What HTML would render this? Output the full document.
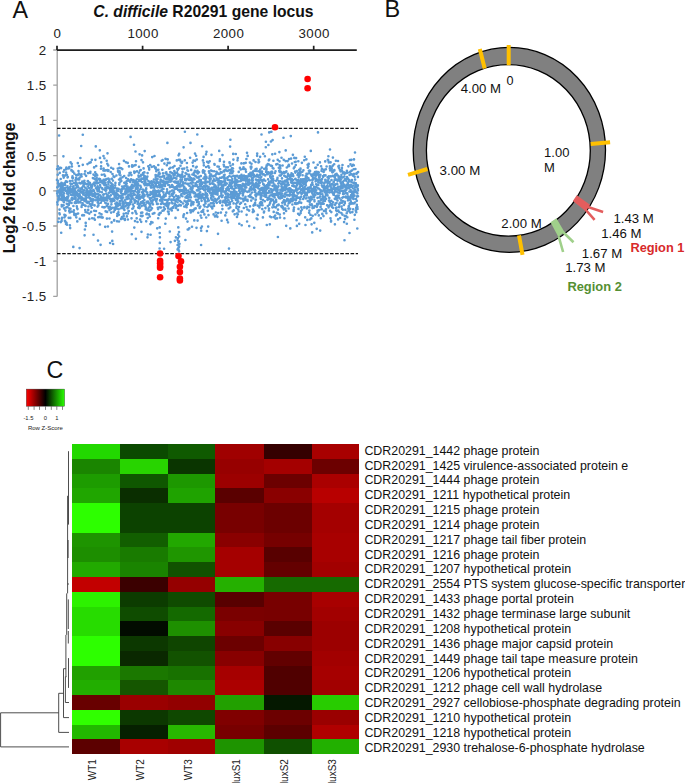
<!DOCTYPE html><html><head><meta charset="utf-8"><style>html,body{margin:0;padding:0;background:#fff;width:685px;height:783px;overflow:hidden}svg{display:block}text{font-family:"Liberation Sans", sans-serif}</style></head><body><svg width="685" height="783" viewBox="0 0 685 783"><rect width="685" height="783" fill="#fff"/><text x="12.4" y="18.3" font-size="23.3" fill="#111">A</text><text x="93.3" y="16.8" font-size="15.7" font-weight="bold" fill="#111"><tspan font-style="italic">C. difficile</tspan> R20291 gene locus</text><text x="57.5" y="38" font-size="13.3" letter-spacing="0.45" fill="#222" text-anchor="middle">0</text><text x="143.1" y="38" font-size="13.3" letter-spacing="0.45" fill="#222" text-anchor="middle">1000</text><text x="228.6" y="38" font-size="13.3" letter-spacing="0.45" fill="#222" text-anchor="middle">2000</text><text x="314.2" y="38" font-size="13.3" letter-spacing="0.45" fill="#222" text-anchor="middle">3000</text><text x="46.7" y="54.9" font-size="13.3" letter-spacing="0.45" fill="#222" text-anchor="end">2</text><text x="46.7" y="90.1" font-size="13.3" letter-spacing="0.45" fill="#222" text-anchor="end">1.5</text><text x="46.7" y="125.3" font-size="13.3" letter-spacing="0.45" fill="#222" text-anchor="end">1</text><text x="46.7" y="160.5" font-size="13.3" letter-spacing="0.45" fill="#222" text-anchor="end">0.5</text><text x="46.7" y="195.7" font-size="13.3" letter-spacing="0.45" fill="#222" text-anchor="end">0</text><text x="46.7" y="230.9" font-size="13.3" letter-spacing="0.45" fill="#222" text-anchor="end">-0.5</text><text x="46.7" y="266.1" font-size="13.3" letter-spacing="0.45" fill="#222" text-anchor="end">-1</text><text x="46.7" y="301.3" font-size="13.3" letter-spacing="0.45" fill="#222" text-anchor="end">-1.5</text><text transform="translate(15.4,187.9) rotate(-90)" font-size="15.8" font-weight="bold" fill="#111" text-anchor="middle">Log2 fold change</text><path d="M57.2 50V296.4M53.2 50.0H57.2M53.2 85.2H57.2M53.2 120.4H57.2M53.2 155.6H57.2M53.2 190.8H57.2M53.2 226.0H57.2M53.2 261.2H57.2M53.2 296.4H57.2" stroke="#a0a0a0" stroke-width="1.3" fill="none"/><path d="M57.0 179.9h0M57.1 169.1h0M57.2 193.5h0M57.3 187.3h0M57.3 202.3h0M57.4 191.4h0M57.5 187.4h0M57.6 204.6h0M57.7 174.7h0M57.8 195.8h0M57.9 166.4h0M57.9 183.2h0M58.0 180.8h0M58.1 183.1h0M58.2 221.8h0M58.3 199.3h0M58.4 186.3h0M58.5 191.7h0M58.5 200.3h0M58.6 185.6h0M58.7 197.4h0M58.8 169.1h0M58.9 218.5h0M59.0 197.5h0M59.1 199.0h0M59.1 135.5h0M59.2 190.4h0M59.3 198.0h0M59.4 213.2h0M59.5 209.6h0M59.6 198.5h0M59.7 172.9h0M59.7 214.3h0M59.8 184.4h0M59.9 193.4h0M60.0 195.0h0M60.1 167.7h0M60.2 192.3h0M60.3 192.6h0M60.3 193.7h0M60.4 190.0h0M60.5 188.5h0M60.6 195.4h0M60.7 179.0h0M60.8 222.1h0M60.9 186.7h0M60.9 185.1h0M61.0 199.6h0M61.1 168.1h0M61.2 232.7h0M61.3 194.5h0M61.4 182.9h0M61.4 192.2h0M61.5 191.1h0M61.6 220.9h0M61.7 205.0h0M61.8 206.4h0M61.9 218.7h0M62.0 187.6h0M62.0 217.9h0M62.1 197.3h0M62.2 189.1h0M62.3 183.2h0M62.4 190.8h0M62.5 192.5h0M62.6 196.8h0M62.6 200.3h0M62.7 190.6h0M62.8 187.1h0M62.9 185.1h0M63.0 175.2h0M63.1 175.7h0M63.2 198.3h0M63.2 196.2h0M63.3 195.1h0M63.4 156.3h0M63.5 171.7h0M63.6 205.3h0M63.7 177.6h0M63.8 190.3h0M63.8 196.2h0M63.9 202.2h0M64.0 193.4h0M64.1 208.4h0M64.2 189.0h0M64.3 170.0h0M64.4 184.7h0M64.4 214.8h0M64.5 217.3h0M64.6 199.2h0M64.7 200.0h0M64.8 183.0h0M64.9 220.8h0M65.0 182.9h0M65.0 198.4h0M65.1 185.1h0M65.2 188.0h0M65.3 175.4h0M65.4 210.6h0M65.5 189.9h0M65.6 221.9h0M65.6 215.6h0M65.7 199.9h0M65.8 190.9h0M65.9 181.3h0M66.0 224.0h0M66.1 172.6h0M66.2 207.5h0M66.2 168.3h0M66.3 169.2h0M66.4 167.5h0M66.5 222.9h0M66.6 197.8h0M66.7 199.0h0M66.8 200.4h0M66.8 203.7h0M66.9 174.7h0M67.0 224.7h0M67.1 193.4h0M67.2 181.8h0M67.3 196.7h0M67.4 187.5h0M67.4 206.9h0M67.5 186.2h0M67.6 177.5h0M67.7 197.9h0M67.8 176.9h0M67.9 191.8h0M68.0 190.4h0M68.0 197.7h0M68.1 200.7h0M68.2 194.0h0M68.3 188.8h0M68.4 195.9h0M68.5 200.5h0M68.6 168.5h0M68.6 188.2h0M68.7 217.8h0M68.8 205.0h0M68.9 190.4h0M69.0 203.9h0M69.1 192.8h0M69.2 168.2h0M69.2 210.9h0M69.3 167.0h0M69.4 208.5h0M69.5 201.9h0M69.6 190.9h0M69.7 212.4h0M69.7 209.1h0M69.8 200.7h0M69.9 225.3h0M70.0 181.0h0M70.1 191.6h0M70.2 228.1h0M70.3 186.7h0M70.3 217.9h0M70.4 183.5h0M70.5 208.7h0M70.6 162.4h0M70.7 192.2h0M70.8 189.1h0M70.9 194.7h0M70.9 190.5h0M71.0 184.3h0M71.1 191.3h0M71.2 191.4h0M71.3 211.6h0M71.4 170.5h0M71.5 202.9h0M71.5 170.0h0M71.6 198.7h0M71.7 163.8h0M71.8 184.0h0M71.9 166.4h0M72.0 197.7h0M72.1 190.2h0M72.1 194.8h0M72.2 199.8h0M72.3 177.7h0M72.4 180.7h0M72.5 176.3h0M72.6 192.1h0M72.7 189.9h0M72.7 199.0h0M72.8 171.7h0M72.9 186.8h0M73.0 178.1h0M73.1 171.6h0M73.2 190.2h0M73.3 246.9h0M73.3 188.6h0M73.4 206.0h0M73.5 186.4h0M73.6 212.0h0M73.7 193.6h0M73.8 183.0h0M73.9 210.2h0M73.9 195.4h0M74.0 191.3h0M74.1 198.3h0M74.2 214.2h0M74.3 173.6h0M74.4 214.9h0M74.5 193.0h0M74.5 183.0h0M74.6 213.9h0M74.7 190.4h0M74.8 202.8h0M74.9 196.6h0M75.0 194.2h0M75.1 193.5h0M75.1 202.4h0M75.2 194.2h0M75.3 199.1h0M75.4 188.6h0M75.5 180.0h0M75.6 195.8h0M75.7 215.0h0M75.7 198.1h0M75.8 185.1h0M75.9 203.0h0M76.0 182.3h0M76.1 177.9h0M76.2 175.1h0M76.3 217.3h0M76.3 191.7h0M76.4 200.8h0M76.5 182.7h0M76.6 214.1h0M76.7 179.3h0M76.8 206.3h0M76.9 187.1h0M76.9 193.0h0M77.0 184.2h0M77.1 208.2h0M77.2 200.4h0M77.3 221.4h0M77.4 194.3h0M77.5 209.1h0M77.5 175.1h0M77.6 185.7h0M77.7 201.7h0M77.8 163.1h0M77.9 179.3h0M78.0 196.1h0M78.1 202.6h0M78.1 213.5h0M78.2 187.4h0M78.3 190.3h0M78.4 199.1h0M78.5 171.1h0M78.6 201.5h0M78.6 174.6h0M78.7 197.2h0M78.8 178.5h0M78.9 173.5h0M79.0 166.0h0M79.1 190.9h0M79.2 193.9h0M79.2 179.4h0M79.3 195.6h0M79.4 182.9h0M79.5 195.6h0M79.6 248.1h0M79.7 197.3h0M79.8 177.5h0M79.8 218.9h0M79.9 195.2h0M80.0 196.1h0M80.1 202.5h0M80.2 190.8h0M80.3 201.9h0M80.4 158.0h0M80.4 188.6h0M80.5 197.4h0M80.6 183.4h0M80.7 197.9h0M80.8 174.9h0M80.9 191.9h0M81.0 192.3h0M81.0 189.1h0M81.1 198.2h0M81.2 146.0h0M81.3 199.8h0M81.4 192.1h0M81.5 174.2h0M81.6 206.9h0M81.6 176.5h0M81.7 197.2h0M81.8 198.3h0M81.9 205.2h0M82.0 192.3h0M82.1 187.5h0M82.2 215.3h0M82.2 189.3h0M82.3 181.6h0M82.4 192.8h0M82.5 203.2h0M82.6 203.3h0M82.7 183.2h0M82.8 164.8h0M82.8 134.7h0M82.9 215.1h0M83.0 192.3h0M83.1 186.3h0M83.2 194.6h0M83.3 181.8h0M83.4 191.6h0M83.4 204.7h0M83.5 199.9h0M83.6 182.1h0M83.7 185.3h0M83.8 193.1h0M83.9 186.1h0M84.0 198.6h0M84.0 215.3h0M84.1 183.9h0M84.2 190.2h0M84.3 199.6h0M84.4 180.8h0M84.5 201.0h0M84.6 235.3h0M84.6 174.1h0M84.7 183.0h0M84.8 199.6h0M84.9 229.5h0M85.0 195.3h0M85.1 205.6h0M85.2 210.0h0M85.2 171.4h0M85.3 187.7h0M85.4 199.5h0M85.5 211.9h0M85.6 205.9h0M85.7 222.9h0M85.8 225.9h0M85.8 195.8h0M85.9 200.1h0M86.0 194.5h0M86.1 175.8h0M86.2 198.1h0M86.3 192.6h0M86.4 184.1h0M86.4 194.6h0M86.5 191.2h0M86.6 202.3h0M86.7 189.1h0M86.8 193.4h0M86.9 190.6h0M86.9 197.4h0M87.0 201.6h0M87.1 202.6h0M87.2 194.3h0M87.3 190.2h0M87.4 212.6h0M87.5 202.8h0M87.5 164.1h0M87.6 194.6h0M87.7 181.2h0M87.8 186.5h0M87.9 181.0h0M88.0 191.6h0M88.1 192.9h0M88.1 173.1h0M88.2 209.9h0M88.3 183.9h0M88.4 206.5h0M88.5 194.2h0M88.6 197.3h0M88.7 202.1h0M88.7 184.3h0M88.8 202.0h0M88.9 182.4h0M89.0 183.7h0M89.1 195.8h0M89.2 188.0h0M89.3 218.9h0M89.3 213.6h0M89.4 162.8h0M89.5 191.2h0M89.6 195.5h0M89.7 193.2h0M89.8 204.0h0M89.9 182.9h0M89.9 198.0h0M90.0 198.6h0M90.1 184.6h0M90.2 194.6h0M90.3 173.0h0M90.4 171.7h0M90.5 192.4h0M90.5 190.1h0M90.6 198.6h0M90.7 162.3h0M90.8 200.9h0M90.9 205.8h0M91.0 186.0h0M91.1 184.9h0M91.1 211.8h0M91.2 200.9h0M91.3 199.0h0M91.4 190.8h0M91.5 204.6h0M91.6 191.6h0M91.7 187.8h0M91.7 207.7h0M91.8 159.8h0M91.9 191.7h0M92.0 186.3h0M92.1 194.5h0M92.2 218.2h0M92.3 204.7h0M92.3 203.8h0M92.4 194.0h0M92.5 196.1h0M92.6 201.7h0M92.7 195.4h0M92.8 194.3h0M92.9 178.1h0M92.9 200.1h0M93.0 195.4h0M93.1 199.2h0M93.2 190.4h0M93.3 184.0h0M93.4 190.1h0M93.5 174.6h0M93.5 234.7h0M93.6 183.6h0M93.7 184.0h0M93.8 178.4h0M93.9 194.6h0M94.0 190.8h0M94.1 167.4h0M94.1 218.5h0M94.2 210.7h0M94.3 183.8h0M94.4 182.6h0M94.5 194.1h0M94.6 205.4h0M94.7 192.7h0M94.7 196.4h0M94.8 185.6h0M94.9 219.7h0M95.0 215.1h0M95.1 179.3h0M95.2 175.9h0M95.2 172.3h0M95.3 200.2h0M95.4 159.8h0M95.5 197.3h0M95.6 178.8h0M95.7 194.6h0M95.8 182.8h0M95.8 146.4h0M95.9 188.2h0M96.0 211.0h0M96.1 174.7h0M96.2 166.0h0M96.3 187.8h0M96.4 174.4h0M96.4 180.0h0M96.5 183.2h0M96.6 181.3h0M96.7 178.1h0M96.8 180.3h0M96.9 187.5h0M97.0 183.5h0M97.0 193.9h0M97.1 189.4h0M97.2 175.3h0M97.3 199.9h0M97.4 190.8h0M97.5 198.8h0M97.6 186.3h0M97.6 206.6h0M97.7 202.6h0M97.8 196.9h0M97.9 201.9h0M98.0 240.6h0M98.1 190.3h0M98.2 194.1h0M98.2 217.2h0M98.3 200.0h0M98.4 205.4h0M98.5 182.7h0M98.6 203.7h0M98.7 187.4h0M98.8 200.2h0M98.8 190.4h0M98.9 198.7h0M99.0 189.0h0M99.1 179.3h0M99.2 178.7h0M99.3 194.9h0M99.4 191.5h0M99.4 199.4h0M99.5 213.2h0M99.6 216.9h0M99.7 191.7h0M99.8 150.3h0M99.9 224.5h0M100.0 179.1h0M100.0 157.9h0M100.1 185.0h0M100.2 195.4h0M100.3 180.8h0M100.4 186.9h0M100.5 181.9h0M100.6 197.7h0M100.6 244.8h0M100.7 196.5h0M100.8 202.7h0M100.9 196.5h0M101.0 168.7h0M101.1 166.3h0M101.2 180.7h0M101.2 162.3h0M101.3 199.3h0M101.4 200.5h0M101.5 214.4h0M101.6 217.4h0M101.7 200.1h0M101.8 200.6h0M101.8 174.7h0M101.9 192.2h0M102.0 198.6h0M102.1 188.3h0M102.2 188.2h0M102.3 199.8h0M102.4 207.0h0M102.4 200.5h0M102.5 183.0h0M102.6 189.3h0M102.7 217.6h0M102.8 198.6h0M102.9 197.5h0M103.0 198.6h0M103.0 181.1h0M103.1 181.9h0M103.2 197.6h0M103.3 194.8h0M103.4 170.5h0M103.5 156.0h0M103.6 168.6h0M103.6 179.7h0M103.7 198.0h0M103.8 184.2h0M103.9 200.6h0M104.0 194.2h0M104.1 170.6h0M104.1 207.4h0M104.2 174.5h0M104.3 185.1h0M104.4 158.2h0M104.5 179.9h0M104.6 182.6h0M104.7 197.7h0M104.7 207.2h0M104.8 189.8h0M104.9 199.9h0M105.0 175.9h0M105.1 184.7h0M105.2 226.8h0M105.3 189.1h0M105.3 202.8h0M105.4 187.7h0M105.5 182.6h0M105.6 211.3h0M105.7 170.4h0M105.8 190.8h0M105.9 198.1h0M105.9 184.7h0M106.0 203.3h0M106.1 179.7h0M106.2 190.2h0M106.3 193.6h0M106.4 179.0h0M106.5 188.5h0M106.5 199.5h0M106.6 186.4h0M106.7 160.7h0M106.8 206.1h0M106.9 218.6h0M107.0 196.3h0M107.1 211.9h0M107.1 198.1h0M107.2 200.5h0M107.3 163.7h0M107.4 170.1h0M107.5 153.3h0M107.6 170.3h0M107.7 186.4h0M107.7 187.8h0M107.8 195.3h0M107.9 226.5h0M108.0 203.9h0M108.1 171.0h0M108.2 165.4h0M108.3 178.5h0M108.3 182.1h0M108.4 183.9h0M108.5 170.2h0M108.6 208.0h0M108.7 196.2h0M108.8 206.7h0M108.9 192.8h0M108.9 197.9h0M109.0 179.8h0M109.1 188.3h0M109.2 197.1h0M109.3 181.5h0M109.4 179.3h0M109.5 218.5h0M109.5 210.1h0M109.6 181.6h0M109.7 198.8h0M109.8 192.3h0M109.9 188.9h0M110.0 206.7h0M110.1 190.1h0M110.1 243.0h0M110.2 188.4h0M110.3 198.6h0M110.4 186.1h0M110.5 199.6h0M110.6 186.8h0M110.7 172.0h0M110.7 201.4h0M110.8 195.3h0M110.9 187.3h0M111.0 208.9h0M111.1 212.6h0M111.2 167.7h0M111.3 183.3h0M111.3 190.5h0M111.4 204.3h0M111.5 192.1h0M111.6 222.4h0M111.7 188.4h0M111.8 199.3h0M111.9 201.6h0M111.9 178.8h0M112.0 208.0h0M112.1 231.6h0M112.2 184.3h0M112.3 240.9h0M112.4 186.1h0M112.4 207.7h0M112.5 174.0h0M112.6 187.8h0M112.7 184.9h0M112.8 186.8h0M112.9 180.6h0M113.0 193.7h0M113.0 198.7h0M113.1 244.0h0M113.2 168.8h0M113.3 200.7h0M113.4 189.7h0M113.5 191.4h0M113.6 176.4h0M113.6 188.0h0M113.7 211.8h0M113.8 199.8h0M113.9 191.4h0M114.0 194.5h0M114.1 220.6h0M114.2 193.0h0M114.2 220.0h0M114.3 177.0h0M114.4 207.8h0M114.5 200.6h0M114.6 209.2h0M114.7 196.7h0M114.8 196.9h0M114.8 196.8h0M114.9 210.0h0M115.0 209.6h0M115.1 187.6h0M115.2 185.2h0M115.3 195.9h0M115.4 203.6h0M115.4 182.9h0M115.5 209.0h0M115.6 194.2h0M115.7 198.0h0M115.8 192.8h0M115.9 195.1h0M116.0 206.9h0M116.0 204.8h0M116.1 193.6h0M116.2 204.8h0M116.3 203.3h0M116.4 175.5h0M116.5 197.8h0M116.6 193.2h0M116.6 190.3h0M116.7 195.2h0M116.8 202.5h0M116.9 198.3h0M117.0 221.2h0M117.1 188.5h0M117.2 216.0h0M117.2 188.7h0M117.3 213.8h0M117.4 199.3h0M117.5 194.3h0M117.6 205.9h0M117.7 208.7h0M117.8 195.1h0M117.8 168.5h0M117.9 205.8h0M118.0 171.1h0M118.1 190.9h0M118.2 171.8h0M118.3 197.9h0M118.4 212.2h0M118.4 203.8h0M118.5 188.7h0M118.6 209.3h0M118.7 168.2h0M118.8 172.3h0M118.9 214.7h0M119.0 179.5h0M119.0 221.5h0M119.1 164.1h0M119.2 195.9h0M119.3 184.6h0M119.4 183.1h0M119.5 174.6h0M119.6 167.9h0M119.6 171.4h0M119.7 201.4h0M119.8 172.9h0M119.9 204.2h0M120.0 204.1h0M120.1 205.1h0M120.2 178.6h0M120.2 201.4h0M120.3 178.5h0M120.4 175.3h0M120.5 181.6h0M120.6 179.1h0M120.7 189.8h0M120.7 191.9h0M120.8 208.2h0M120.9 198.1h0M121.0 219.1h0M121.1 168.2h0M121.2 193.1h0M121.3 193.5h0M121.3 180.9h0M121.4 196.0h0M121.5 218.3h0M121.6 191.2h0M121.7 199.6h0M121.8 199.7h0M121.9 206.9h0M121.9 189.2h0M122.0 217.0h0M122.1 186.6h0M122.2 198.2h0M122.3 169.1h0M122.4 194.1h0M122.5 177.2h0M122.5 189.2h0M122.6 203.2h0M122.7 207.7h0M122.8 201.7h0M122.9 204.5h0M123.0 218.5h0M123.1 197.6h0M123.1 194.6h0M123.2 207.1h0M123.3 204.5h0M123.4 206.3h0M123.5 204.3h0M123.6 208.7h0M123.7 216.0h0M123.7 213.8h0M123.8 187.7h0M123.9 160.8h0M124.0 188.2h0M124.1 209.3h0M124.2 176.0h0M124.3 193.9h0M124.3 182.7h0M124.4 209.9h0M124.5 185.8h0M124.6 203.3h0M124.7 200.3h0M124.8 218.8h0M124.9 206.5h0M124.9 220.0h0M125.0 182.5h0M125.1 206.5h0M125.2 194.3h0M125.3 191.9h0M125.4 185.6h0M125.5 202.3h0M125.5 199.5h0M125.6 189.9h0M125.7 206.1h0M125.8 192.5h0M125.9 162.2h0M126.0 192.5h0M126.1 213.2h0M126.1 178.0h0M126.2 184.3h0M126.3 184.4h0M126.4 197.2h0M126.5 191.0h0M126.6 193.0h0M126.7 183.5h0M126.7 187.8h0M126.8 181.0h0M126.9 216.4h0M127.0 205.0h0M127.1 198.9h0M127.2 190.8h0M127.3 204.1h0M127.3 203.4h0M127.4 186.3h0M127.5 188.8h0M127.6 208.3h0M127.7 162.9h0M127.8 195.3h0M127.9 219.5h0M127.9 213.5h0M128.0 196.7h0M128.1 179.3h0M128.2 198.5h0M128.3 207.4h0M128.4 191.6h0M128.5 190.7h0M128.5 211.2h0M128.6 203.3h0M128.7 175.4h0M128.8 211.1h0M128.9 194.6h0M129.0 166.4h0M129.0 180.7h0M129.1 205.2h0M129.2 188.0h0M129.3 198.5h0M129.4 188.6h0M129.5 173.0h0M129.6 187.5h0M129.6 180.7h0M129.7 195.2h0M129.8 188.5h0M129.9 188.0h0M130.0 173.2h0M130.1 203.9h0M130.2 191.6h0M130.2 188.9h0M130.3 182.0h0M130.4 201.2h0M130.5 194.4h0M130.6 136.9h0M130.7 172.7h0M130.8 187.4h0M130.8 196.2h0M130.9 191.6h0M131.0 193.7h0M131.1 179.2h0M131.2 199.8h0M131.3 186.4h0M131.4 201.9h0M131.4 175.1h0M131.5 218.3h0M131.6 188.8h0M131.7 179.8h0M131.8 234.2h0M131.9 197.7h0M132.0 184.7h0M132.0 191.1h0M132.1 165.2h0M132.2 166.7h0M132.3 208.7h0M132.4 213.1h0M132.5 195.7h0M132.6 186.2h0M132.6 188.0h0M132.7 185.2h0M132.8 166.2h0M132.9 204.5h0M133.0 185.2h0M133.1 208.2h0M133.2 182.1h0M133.2 186.4h0M133.3 193.6h0M133.4 198.5h0M133.5 180.1h0M133.6 182.1h0M133.7 206.4h0M133.8 191.7h0M133.8 194.9h0M133.9 191.0h0M134.0 144.7h0M134.1 182.3h0M134.2 171.5h0M134.3 227.6h0M134.4 165.5h0M134.4 172.8h0M134.5 200.6h0M134.6 186.2h0M134.7 194.5h0M134.8 202.7h0M134.9 200.3h0M135.0 221.1h0M135.0 191.2h0M135.1 171.8h0M135.2 183.9h0M135.3 211.0h0M135.4 201.5h0M135.5 151.5h0M135.6 165.0h0M135.6 180.9h0M135.7 212.3h0M135.8 188.9h0M135.9 238.8h0M136.0 161.2h0M136.1 182.0h0M136.2 184.6h0M136.2 197.6h0M136.3 201.1h0M136.4 188.0h0M136.5 213.7h0M136.6 181.8h0M136.7 218.3h0M136.8 183.3h0M136.8 195.6h0M136.9 179.2h0M137.0 171.3h0M137.1 187.0h0M137.2 188.4h0M137.3 192.3h0M137.4 182.5h0M137.4 184.7h0M137.5 222.0h0M137.6 197.7h0M137.7 203.9h0M137.8 187.9h0M137.9 201.7h0M137.9 193.3h0M138.0 190.9h0M138.1 184.1h0M138.2 207.6h0M138.3 196.0h0M138.4 185.3h0M138.5 175.6h0M138.5 190.4h0M138.6 176.3h0M138.7 177.0h0M138.8 199.4h0M138.9 172.7h0M139.0 166.8h0M139.1 181.0h0M139.1 206.1h0M139.2 191.8h0M139.3 179.5h0M139.4 197.8h0M139.5 194.7h0M139.6 154.3h0M139.7 199.0h0M139.7 208.1h0M139.8 203.8h0M139.9 197.2h0M140.0 170.5h0M140.1 219.5h0M140.2 219.8h0M140.3 189.2h0M140.3 203.7h0M140.4 185.8h0M140.5 179.6h0M140.6 176.3h0M140.7 170.0h0M140.8 215.8h0M140.9 181.0h0M140.9 202.2h0M141.0 187.2h0M141.1 212.8h0M141.2 221.8h0M141.3 174.8h0M141.4 179.0h0M141.5 231.8h0M141.5 160.1h0M141.6 206.1h0M141.7 196.6h0M141.8 197.4h0M141.9 216.2h0M142.0 182.0h0M142.1 155.4h0M142.1 192.3h0M142.2 178.6h0M142.3 212.6h0M142.4 203.0h0M142.5 195.7h0M142.6 215.7h0M142.7 195.4h0M142.7 201.2h0M142.8 189.5h0M142.9 194.0h0M143.0 162.3h0M143.1 173.0h0M143.2 191.8h0M143.3 194.6h0M143.3 194.4h0M143.4 197.8h0M143.5 175.1h0M143.6 168.4h0M143.7 179.2h0M143.8 204.2h0M143.9 205.3h0M143.9 203.0h0M144.0 183.7h0M144.1 191.1h0M144.2 176.7h0M144.3 200.1h0M144.4 172.4h0M144.5 181.6h0M144.5 194.8h0M144.6 195.8h0M144.7 151.1h0M144.8 185.2h0M144.9 183.8h0M145.0 176.2h0M145.1 183.1h0M145.1 180.9h0M145.2 182.3h0M145.3 181.6h0M145.4 178.6h0M145.5 206.5h0M145.6 204.7h0M145.7 189.8h0M145.7 209.2h0M145.8 184.1h0M145.9 207.9h0M146.0 191.4h0M146.1 189.5h0M146.2 221.3h0M146.2 188.4h0M146.3 183.5h0M146.4 214.2h0M146.5 202.5h0M146.6 185.0h0M146.7 201.7h0M146.8 179.1h0M146.8 183.8h0M146.9 213.5h0M147.0 185.3h0M147.1 176.9h0M147.2 194.5h0M147.3 192.6h0M147.4 176.6h0M147.4 210.2h0M147.5 237.3h0M147.6 173.1h0M147.7 218.1h0M147.8 196.3h0M147.9 234.5h0M148.0 201.5h0M148.0 195.7h0M148.1 202.4h0M148.2 209.2h0M148.3 166.2h0M148.4 181.1h0M148.5 184.0h0M148.6 214.5h0M148.6 203.0h0M148.7 207.8h0M148.8 184.9h0M148.9 214.4h0M149.0 203.3h0M149.1 168.1h0M149.2 194.9h0M149.2 169.6h0M149.3 203.7h0M149.4 181.7h0M149.5 210.8h0M149.6 206.9h0M149.7 198.1h0M149.8 216.5h0M149.8 204.6h0M149.9 194.5h0M150.0 194.9h0M150.1 198.9h0M150.2 165.0h0M150.3 182.9h0M150.4 206.3h0M150.4 224.1h0M150.5 192.0h0M150.6 234.7h0M150.7 200.7h0M150.8 186.8h0M150.9 187.1h0M151.0 185.6h0M151.0 187.6h0M151.1 209.6h0M151.2 222.1h0M151.3 193.9h0M151.4 203.2h0M151.5 187.2h0M151.6 181.2h0M151.6 202.2h0M151.7 197.8h0M151.8 166.8h0M151.9 182.9h0M152.0 208.2h0M152.1 184.8h0M152.2 157.1h0M152.2 202.2h0M152.3 187.3h0M152.4 201.5h0M152.5 222.5h0M152.6 194.2h0M152.7 193.2h0M152.8 200.2h0M152.8 213.7h0M152.9 191.7h0M153.0 204.3h0M153.1 184.8h0M153.2 196.9h0M153.3 193.4h0M153.4 194.8h0M153.4 190.5h0M153.5 196.5h0M153.6 181.8h0M153.7 190.4h0M153.8 187.3h0M153.9 179.5h0M154.0 166.4h0M154.0 187.1h0M154.1 196.1h0M154.2 187.8h0M154.3 197.3h0M154.4 213.1h0M154.5 156.0h0M154.5 199.2h0M154.6 190.4h0M154.7 198.8h0M154.8 199.5h0M154.9 196.4h0M155.0 182.9h0M155.1 186.3h0M155.1 194.5h0M155.2 192.6h0M155.3 168.2h0M155.4 199.7h0M155.5 194.2h0M155.6 175.1h0M155.7 167.5h0M155.7 177.0h0M155.8 179.3h0M155.9 191.0h0M156.0 185.1h0M156.1 169.5h0M156.2 175.2h0M156.3 171.2h0M156.3 201.4h0M156.4 182.7h0M156.5 180.8h0M156.6 195.7h0M156.7 199.7h0M156.8 192.6h0M156.9 198.7h0M156.9 195.2h0M157.0 203.9h0M157.1 191.7h0M157.2 228.3h0M157.3 186.4h0M157.4 182.7h0M157.5 179.3h0M157.5 187.2h0M157.6 179.1h0M157.7 203.9h0M157.8 207.7h0M157.9 182.4h0M158.0 175.3h0M158.1 209.1h0M158.1 176.3h0M158.2 218.2h0M158.3 165.0h0M158.4 169.8h0M158.5 190.5h0M158.6 196.0h0M158.7 191.0h0M158.7 214.5h0M158.8 173.4h0M158.9 195.3h0M159.0 192.6h0M159.1 214.8h0M159.2 172.6h0M159.3 184.6h0M159.3 185.3h0M159.4 194.2h0M159.5 207.2h0M159.6 213.4h0M159.7 173.8h0M159.8 195.0h0M159.9 176.8h0M159.9 187.4h0M160.0 200.4h0M160.1 185.5h0M160.2 191.2h0M160.3 182.6h0M160.4 181.2h0M160.5 196.8h0M160.5 182.0h0M160.6 179.6h0M160.7 212.8h0M160.8 207.6h0M160.9 203.9h0M161.0 200.7h0M161.1 184.6h0M161.1 185.7h0M161.2 180.4h0M161.3 190.3h0M161.4 198.6h0M161.5 190.7h0M161.6 197.8h0M161.7 187.0h0M161.7 160.7h0M161.8 198.9h0M161.9 176.7h0M162.0 200.6h0M162.1 200.4h0M162.2 189.6h0M162.3 169.7h0M162.3 201.7h0M162.4 198.4h0M162.5 210.7h0M162.6 160.0h0M162.7 189.1h0M162.8 185.8h0M162.9 176.2h0M162.9 181.9h0M163.0 173.4h0M163.1 196.5h0M163.2 185.6h0M163.3 203.6h0M163.4 180.9h0M163.4 192.4h0M163.5 188.9h0M163.6 184.1h0M163.7 210.4h0M163.8 207.3h0M163.9 195.7h0M164.0 196.8h0M164.0 194.7h0M164.1 248.7h0M164.2 176.1h0M164.3 184.6h0M164.4 163.6h0M164.5 178.2h0M164.6 209.3h0M164.6 199.7h0M164.7 204.5h0M164.8 208.9h0M164.9 184.4h0M165.0 185.9h0M165.1 182.1h0M165.2 196.0h0M165.2 183.5h0M165.3 223.7h0M165.4 182.6h0M165.5 158.8h0M165.6 195.9h0M165.7 172.9h0M165.8 183.5h0M165.8 218.6h0M165.9 203.8h0M166.0 193.7h0M166.1 179.0h0M166.2 181.9h0M166.3 172.2h0M166.4 205.3h0M166.4 200.1h0M166.5 205.7h0M166.6 192.6h0M166.7 174.3h0M166.8 165.2h0M166.9 182.7h0M167.0 206.1h0M167.0 189.3h0M167.1 174.3h0M167.2 202.8h0M167.3 191.6h0M167.4 177.4h0M167.5 182.2h0M167.6 178.2h0M167.6 200.7h0M167.7 159.4h0M167.8 162.9h0M167.9 182.1h0M168.0 211.6h0M168.1 208.5h0M168.2 207.0h0M168.2 179.5h0M168.3 184.9h0M168.4 204.9h0M168.5 193.0h0M168.6 211.8h0M168.7 176.1h0M168.8 214.1h0M168.8 198.9h0M168.9 192.7h0M169.0 199.5h0M169.1 185.0h0M169.2 193.7h0M169.3 168.7h0M169.4 203.3h0M169.4 174.9h0M169.5 178.5h0M169.6 162.9h0M169.7 196.5h0M169.8 231.5h0M169.9 180.0h0M170.0 181.7h0M170.0 187.2h0M170.1 209.2h0M170.2 191.5h0M170.3 172.1h0M170.4 167.7h0M170.5 177.1h0M170.6 242.1h0M170.6 179.5h0M170.7 176.1h0M170.8 180.4h0M170.9 186.5h0M171.0 199.6h0M171.1 177.1h0M171.2 208.6h0M171.2 172.5h0M171.3 200.1h0M171.4 180.8h0M171.5 181.2h0M171.6 186.6h0M171.7 199.9h0M171.7 194.7h0M171.8 210.4h0M171.9 202.5h0M172.0 185.1h0M172.1 193.8h0M172.2 190.5h0M172.3 179.1h0M172.3 203.3h0M172.4 195.8h0M172.5 173.4h0M172.6 185.9h0M172.7 186.7h0M172.8 207.2h0M172.9 194.0h0M172.9 167.4h0M173.0 194.1h0M173.1 199.5h0M173.2 207.7h0M173.3 190.8h0M173.4 193.5h0M173.5 187.3h0M173.5 175.4h0M173.6 190.9h0M173.7 192.2h0M173.8 174.0h0M173.9 177.7h0M174.0 200.1h0M174.1 192.5h0M174.1 181.7h0M174.2 197.4h0M174.3 171.0h0M174.4 205.5h0M174.5 166.0h0M174.6 181.9h0M174.7 175.0h0M174.7 188.0h0M174.8 203.3h0M174.9 240.8h0M175.0 187.4h0M175.1 182.5h0M175.2 188.9h0M175.3 187.5h0M175.3 172.6h0M175.4 177.9h0M175.5 217.9h0M175.6 173.2h0M175.7 200.9h0M175.8 181.6h0M175.9 208.0h0M175.9 237.3h0M176.0 195.6h0M176.1 187.0h0M176.2 178.6h0M176.3 205.3h0M176.4 178.7h0M176.5 199.3h0M176.5 187.3h0M176.6 206.4h0M176.7 188.6h0M176.8 160.4h0M176.9 186.6h0M177.0 172.6h0M177.1 182.9h0M177.1 182.7h0M177.2 185.9h0M177.3 169.0h0M177.4 176.1h0M177.5 202.2h0M177.6 196.9h0M177.7 198.5h0M177.7 170.1h0M177.8 186.3h0M177.9 209.9h0M178.0 174.2h0M178.1 189.9h0M178.2 181.6h0M178.3 196.2h0M178.3 199.9h0M178.4 205.7h0M178.5 184.6h0M178.6 155.3h0M178.7 186.4h0M178.8 183.9h0M178.9 174.7h0M178.9 159.8h0M179.0 175.5h0M179.1 168.3h0M179.2 153.9h0M179.3 184.2h0M179.4 204.8h0M179.5 186.6h0M179.5 197.5h0M179.6 183.8h0M179.7 191.6h0M179.8 191.1h0M179.9 183.5h0M180.0 189.7h0M180.0 159.7h0M180.1 201.1h0M180.2 190.7h0M180.3 176.3h0M180.4 179.7h0M180.5 165.7h0M180.6 177.3h0M180.6 186.4h0M180.7 161.6h0M180.8 205.4h0M180.9 181.5h0M181.0 195.3h0M181.1 180.2h0M181.2 190.8h0M181.2 202.0h0M181.3 181.2h0M181.4 174.9h0M181.5 194.1h0M181.6 175.6h0M181.7 163.0h0M181.8 180.0h0M181.8 185.2h0M181.9 179.8h0M182.0 190.0h0M182.1 174.3h0M182.2 161.7h0M182.3 168.8h0M182.4 196.2h0M182.4 177.4h0M182.5 184.6h0M182.6 171.9h0M182.7 184.7h0M182.8 184.7h0M182.9 185.2h0M183.0 182.2h0M183.0 191.3h0M183.1 203.5h0M183.2 183.5h0M183.3 193.2h0M183.4 217.0h0M183.5 215.6h0M183.6 186.6h0M183.6 147.3h0M183.7 192.8h0M183.8 183.2h0M183.9 176.5h0M184.0 214.3h0M184.1 188.5h0M184.2 168.6h0M184.2 186.7h0M184.3 206.6h0M184.4 194.0h0M184.5 190.8h0M184.6 200.9h0M184.7 176.1h0M184.8 190.6h0M184.8 160.3h0M184.9 131.7h0M185.0 180.1h0M185.1 193.2h0M185.2 188.4h0M185.3 178.7h0M185.4 183.2h0M185.4 240.0h0M185.5 197.4h0M185.6 173.0h0M185.7 188.8h0M185.8 189.5h0M185.9 206.4h0M186.0 190.6h0M186.0 218.6h0M186.1 204.9h0M186.2 201.9h0M186.3 180.2h0M186.4 197.7h0M186.5 173.9h0M186.6 207.2h0M186.6 196.4h0M186.7 192.8h0M186.8 205.2h0M186.9 163.0h0M187.0 167.5h0M187.1 213.0h0M187.2 201.3h0M187.2 183.8h0M187.3 202.9h0M187.4 170.2h0M187.5 221.6h0M187.6 178.7h0M187.7 229.5h0M187.8 194.6h0M187.8 184.3h0M187.9 204.0h0M188.0 197.7h0M188.1 170.7h0M188.2 190.6h0M188.3 183.8h0M188.3 229.5h0M188.4 200.4h0M188.5 174.7h0M188.6 196.7h0M188.7 176.2h0M188.8 201.0h0M188.9 197.4h0M188.9 191.7h0M189.0 175.0h0M189.1 174.7h0M189.2 180.0h0M189.3 228.3h0M189.4 179.3h0M189.5 176.5h0M189.5 185.9h0M189.6 193.2h0M189.7 177.0h0M189.8 196.9h0M189.9 179.4h0M190.0 177.2h0M190.1 157.7h0M190.1 194.9h0M190.2 210.2h0M190.3 200.3h0M190.4 178.4h0M190.5 188.8h0M190.6 191.7h0M190.7 212.4h0M190.7 183.0h0M190.8 178.1h0M190.9 197.3h0M191.0 180.0h0M191.1 205.3h0M191.2 169.9h0M191.3 183.5h0M191.3 187.5h0M191.4 203.3h0M191.5 188.3h0M191.6 201.6h0M191.7 192.0h0M191.8 189.7h0M191.9 192.2h0M191.9 187.5h0M192.0 226.7h0M192.1 210.4h0M192.2 180.8h0M192.3 178.7h0M192.4 174.5h0M192.5 188.4h0M192.5 188.5h0M192.6 162.6h0M192.7 191.2h0M192.8 185.6h0M192.9 179.6h0M193.0 211.2h0M193.1 166.1h0M193.1 182.5h0M193.2 204.3h0M193.3 186.4h0M193.4 178.8h0M193.5 160.5h0M193.6 202.3h0M193.7 173.2h0M193.7 192.1h0M193.8 178.5h0M193.9 193.2h0M194.0 209.7h0M194.1 175.0h0M194.2 193.1h0M194.3 220.4h0M194.3 179.3h0M194.4 172.4h0M194.5 179.2h0M194.6 208.9h0M194.7 196.4h0M194.8 192.7h0M194.9 208.5h0M194.9 170.8h0M195.0 153.6h0M195.1 160.8h0M195.2 175.7h0M195.3 193.6h0M195.4 196.5h0M195.5 185.9h0M195.5 184.9h0M195.6 183.4h0M195.7 208.4h0M195.8 195.5h0M195.9 167.5h0M196.0 199.7h0M196.1 155.7h0M196.1 176.4h0M196.2 195.9h0M196.3 194.8h0M196.4 196.1h0M196.5 227.8h0M196.6 184.8h0M196.7 171.5h0M196.7 166.7h0M196.8 159.5h0M196.9 190.3h0M197.0 201.9h0M197.1 172.5h0M197.2 177.6h0M197.2 181.8h0M197.3 195.2h0M197.4 196.6h0M197.5 170.9h0M197.6 220.6h0M197.7 173.4h0M197.8 186.8h0M197.8 172.9h0M197.9 205.5h0M198.0 199.5h0M198.1 187.5h0M198.2 190.4h0M198.3 212.7h0M198.4 177.4h0M198.4 181.6h0M198.5 193.9h0M198.6 189.9h0M198.7 202.0h0M198.8 196.2h0M198.9 204.0h0M199.0 172.2h0M199.0 176.8h0M199.1 194.9h0M199.2 198.0h0M199.3 193.6h0M199.4 179.9h0M199.5 180.9h0M199.6 207.9h0M199.6 189.4h0M199.7 196.5h0M199.8 184.6h0M199.9 183.8h0M200.0 184.1h0M200.1 189.1h0M200.2 192.2h0M200.2 186.5h0M200.3 206.6h0M200.4 194.9h0M200.5 197.9h0M200.6 215.5h0M200.7 181.0h0M200.8 176.1h0M200.8 180.1h0M200.9 186.1h0M201.0 228.1h0M201.1 245.0h0M201.2 230.7h0M201.3 198.4h0M201.4 211.8h0M201.4 217.7h0M201.5 182.4h0M201.6 200.8h0M201.7 182.2h0M201.8 197.2h0M201.9 226.5h0M202.0 184.1h0M202.0 182.4h0M202.1 146.2h0M202.2 195.7h0M202.3 211.1h0M202.4 188.6h0M202.5 194.4h0M202.6 195.2h0M202.6 187.4h0M202.7 194.0h0M202.8 171.3h0M202.9 160.4h0M203.0 172.6h0M203.1 170.4h0M203.2 188.9h0M203.2 212.0h0M203.3 209.7h0M203.4 178.5h0M203.5 197.5h0M203.6 156.9h0M203.7 162.7h0M203.8 165.3h0M203.8 182.5h0M203.9 205.0h0M204.0 186.0h0M204.1 172.4h0M204.2 190.1h0M204.3 199.2h0M204.4 199.2h0M204.4 214.4h0M204.5 171.0h0M204.6 177.1h0M204.7 206.5h0M204.8 200.0h0M204.9 194.6h0M205.0 190.3h0M205.0 201.4h0M205.1 177.8h0M205.2 183.5h0M205.3 174.6h0M205.4 187.5h0M205.5 180.8h0M205.5 203.4h0M205.6 179.4h0M205.7 192.8h0M205.8 189.3h0M205.9 197.5h0M206.0 154.3h0M206.1 167.0h0M206.1 196.9h0M206.2 217.5h0M206.3 185.7h0M206.4 176.9h0M206.5 151.8h0M206.6 177.9h0M206.7 185.8h0M206.7 182.3h0M206.8 194.8h0M206.9 231.1h0M207.0 194.0h0M207.1 161.7h0M207.2 197.5h0M207.3 207.0h0M207.3 195.6h0M207.4 195.5h0M207.5 201.2h0M207.6 198.3h0M207.7 210.8h0M207.8 181.8h0M207.9 186.8h0M207.9 199.1h0M208.0 191.1h0M208.1 189.1h0M208.2 226.6h0M208.3 166.0h0M208.4 162.7h0M208.5 215.1h0M208.5 205.8h0M208.6 186.9h0M208.7 204.8h0M208.8 190.8h0M208.9 171.4h0M209.0 200.5h0M209.1 205.3h0M209.1 167.6h0M209.2 191.6h0M209.3 178.4h0M209.4 173.0h0M209.5 191.2h0M209.6 181.5h0M209.7 176.4h0M209.7 161.2h0M209.8 177.4h0M209.9 183.9h0M210.0 179.6h0M210.1 189.5h0M210.2 184.0h0M210.3 177.1h0M210.3 193.3h0M210.4 175.1h0M210.5 188.7h0M210.6 179.3h0M210.7 178.5h0M210.8 203.3h0M210.9 175.6h0M210.9 170.5h0M211.0 198.1h0M211.1 206.6h0M211.2 174.5h0M211.3 195.7h0M211.4 189.4h0M211.5 154.8h0M211.5 198.9h0M211.6 192.9h0M211.7 187.9h0M211.8 183.2h0M211.9 193.8h0M212.0 199.8h0M212.1 203.3h0M212.1 171.0h0M212.2 195.8h0M212.3 208.4h0M212.4 188.5h0M212.5 199.5h0M212.6 192.7h0M212.7 181.3h0M212.7 206.5h0M212.8 190.3h0M212.9 196.3h0M213.0 183.8h0M213.1 176.4h0M213.2 202.7h0M213.3 196.6h0M213.3 192.1h0M213.4 183.6h0M213.5 193.6h0M213.6 214.4h0M213.7 187.4h0M213.8 179.3h0M213.8 203.7h0M213.9 201.0h0M214.0 206.0h0M214.1 171.2h0M214.2 179.8h0M214.3 184.7h0M214.4 175.8h0M214.4 164.1h0M214.5 190.1h0M214.6 164.7h0M214.7 175.8h0M214.8 198.7h0M214.9 191.3h0M215.0 216.5h0M215.0 180.7h0M215.1 185.3h0M215.2 199.5h0M215.3 191.9h0M215.4 176.1h0M215.5 185.9h0M215.6 193.9h0M215.6 188.6h0M215.7 186.2h0M215.8 212.5h0M215.9 190.2h0M216.0 187.9h0M216.1 201.7h0M216.2 192.8h0M216.2 189.8h0M216.3 174.1h0M216.4 215.3h0M216.5 171.8h0M216.6 178.2h0M216.7 192.8h0M216.8 202.8h0M216.8 179.8h0M216.9 172.6h0M217.0 191.0h0M217.1 199.6h0M217.2 192.7h0M217.3 192.4h0M217.4 194.6h0M217.4 216.8h0M217.5 166.5h0M217.6 194.0h0M217.7 187.5h0M217.8 182.2h0M217.9 191.0h0M218.0 191.4h0M218.0 233.8h0M218.1 213.0h0M218.2 179.1h0M218.3 173.6h0M218.4 189.8h0M218.5 185.6h0M218.6 184.2h0M218.6 198.3h0M218.7 180.2h0M218.8 198.1h0M218.9 166.7h0M219.0 174.0h0M219.1 188.6h0M219.2 181.8h0M219.2 150.9h0M219.3 196.5h0M219.4 201.8h0M219.5 169.2h0M219.6 173.7h0M219.7 184.0h0M219.8 160.9h0M219.8 183.4h0M219.9 159.3h0M220.0 177.8h0M220.1 202.8h0M220.2 169.2h0M220.3 190.7h0M220.4 200.8h0M220.4 189.7h0M220.5 181.4h0M220.6 182.2h0M220.7 172.2h0M220.8 189.3h0M220.9 212.6h0M221.0 172.3h0M221.0 181.2h0M221.1 188.1h0M221.2 195.2h0M221.3 193.1h0M221.4 185.0h0M221.5 177.7h0M221.6 182.8h0M221.6 220.7h0M221.7 172.6h0M221.8 186.9h0M221.9 197.1h0M222.0 185.7h0M222.1 196.9h0M222.2 177.3h0M222.2 190.9h0M222.3 205.5h0M222.4 209.1h0M222.5 155.1h0M222.6 187.5h0M222.7 189.6h0M222.7 195.5h0M222.8 202.2h0M222.9 188.2h0M223.0 187.1h0M223.1 188.3h0M223.2 181.5h0M223.3 201.5h0M223.3 186.5h0M223.4 200.7h0M223.5 191.4h0M223.6 171.3h0M223.7 164.7h0M223.8 184.8h0M223.9 175.2h0M223.9 170.7h0M224.0 161.8h0M224.1 166.3h0M224.2 171.5h0M224.3 177.1h0M224.4 178.8h0M224.5 181.4h0M224.5 178.3h0M224.6 174.8h0M224.7 183.7h0M224.8 192.5h0M224.9 201.2h0M225.0 197.6h0M225.1 202.7h0M225.1 200.4h0M225.2 180.6h0M225.3 215.4h0M225.4 169.8h0M225.5 185.0h0M225.6 182.8h0M225.7 194.1h0M225.7 191.2h0M225.8 197.8h0M225.9 191.0h0M226.0 183.4h0M226.1 205.1h0M226.2 212.6h0M226.3 167.2h0M226.3 189.1h0M226.4 196.3h0M226.5 190.1h0M226.6 178.2h0M226.7 193.5h0M226.8 170.7h0M226.9 202.4h0M226.9 183.5h0M227.0 197.7h0M227.1 219.9h0M227.2 205.2h0M227.3 197.0h0M227.4 200.4h0M227.5 171.0h0M227.5 197.6h0M227.6 187.5h0M227.7 177.3h0M227.8 193.8h0M227.9 167.3h0M228.0 222.3h0M228.1 179.9h0M228.1 187.0h0M228.2 196.7h0M228.3 196.7h0M228.4 195.1h0M228.5 197.5h0M228.6 200.2h0M228.7 190.5h0M228.7 208.5h0M228.8 170.4h0M228.9 189.1h0M229.0 248.6h0M229.1 185.3h0M229.2 185.7h0M229.3 204.4h0M229.3 202.9h0M229.4 176.0h0M229.5 162.2h0M229.6 170.0h0M229.7 163.1h0M229.8 182.8h0M229.9 180.3h0M229.9 204.3h0M230.0 173.2h0M230.1 146.6h0M230.2 202.3h0M230.3 207.3h0M230.4 139.7h0M230.5 165.7h0M230.5 194.6h0M230.6 197.2h0M230.7 183.7h0M230.8 191.8h0M230.9 187.7h0M231.0 193.3h0M231.0 196.8h0M231.1 171.0h0M231.2 185.7h0M231.3 196.6h0M231.4 185.3h0M231.5 176.8h0M231.6 198.8h0M231.6 173.2h0M231.7 169.1h0M231.8 181.1h0M231.9 168.2h0M232.0 187.0h0M232.1 188.4h0M232.2 200.8h0M232.2 183.0h0M232.3 179.1h0M232.4 172.8h0M232.5 182.5h0M232.6 192.1h0M232.7 194.6h0M232.8 211.3h0M232.8 197.6h0M232.9 164.4h0M233.0 168.5h0M233.1 171.3h0M233.2 153.9h0M233.3 197.1h0M233.4 159.6h0M233.4 175.9h0M233.5 182.1h0M233.6 203.4h0M233.7 210.4h0M233.8 196.6h0M233.9 191.4h0M234.0 191.6h0M234.0 189.1h0M234.1 198.0h0M234.2 191.2h0M234.3 193.3h0M234.4 195.0h0M234.5 190.8h0M234.6 214.3h0M234.6 185.7h0M234.7 181.2h0M234.8 181.9h0M234.9 186.3h0M235.0 184.5h0M235.1 183.4h0M235.2 177.9h0M235.2 194.7h0M235.3 179.1h0M235.4 192.9h0M235.5 176.1h0M235.6 194.8h0M235.7 185.1h0M235.8 154.0h0M235.8 199.0h0M235.9 187.8h0M236.0 200.0h0M236.1 183.9h0M236.2 203.7h0M236.3 185.0h0M236.4 207.8h0M236.4 196.5h0M236.5 192.1h0M236.6 206.2h0M236.7 182.6h0M236.8 197.7h0M236.9 213.5h0M237.0 216.9h0M237.0 180.3h0M237.1 175.8h0M237.2 176.1h0M237.3 202.4h0M237.4 193.9h0M237.5 160.3h0M237.6 185.7h0M237.6 199.7h0M237.7 198.2h0M237.8 158.1h0M237.9 214.3h0M238.0 194.6h0M238.1 196.3h0M238.2 195.1h0M238.2 209.4h0M238.3 201.6h0M238.4 188.0h0M238.5 185.0h0M238.6 181.5h0M238.7 171.9h0M238.8 211.5h0M238.8 177.9h0M238.9 195.3h0M239.0 207.0h0M239.1 188.7h0M239.2 190.8h0M239.3 193.7h0M239.3 223.7h0M239.4 186.8h0M239.5 197.8h0M239.6 185.2h0M239.7 176.1h0M239.8 186.2h0M239.9 167.9h0M239.9 187.6h0M240.0 203.8h0M240.1 193.0h0M240.2 186.4h0M240.3 192.5h0M240.4 185.4h0M240.5 198.3h0M240.5 193.2h0M240.6 181.1h0M240.7 169.4h0M240.8 181.0h0M240.9 177.0h0M241.0 178.0h0M241.1 202.8h0M241.1 178.9h0M241.2 188.8h0M241.3 187.8h0M241.4 163.4h0M241.5 174.9h0M241.6 211.5h0M241.7 225.2h0M241.7 191.0h0M241.8 177.3h0M241.9 186.3h0M242.0 188.5h0M242.1 176.5h0M242.2 180.1h0M242.3 185.5h0M242.3 179.4h0M242.4 177.0h0M242.5 198.7h0M242.6 178.9h0M242.7 179.1h0M242.8 183.7h0M242.9 189.3h0M242.9 195.4h0M243.0 194.0h0M243.1 168.9h0M243.2 189.8h0M243.3 192.8h0M243.4 201.1h0M243.5 167.3h0M243.5 184.1h0M243.6 191.3h0M243.7 200.5h0M243.8 208.0h0M243.9 163.4h0M244.0 175.6h0M244.1 180.1h0M244.1 163.2h0M244.2 185.5h0M244.3 176.3h0M244.4 186.6h0M244.5 189.2h0M244.6 198.3h0M244.7 168.7h0M244.7 179.2h0M244.8 191.2h0M244.9 186.8h0M245.0 177.8h0M245.1 177.0h0M245.2 204.2h0M245.3 190.5h0M245.3 176.3h0M245.4 198.1h0M245.5 196.8h0M245.6 169.6h0M245.7 162.8h0M245.8 184.7h0M245.9 180.8h0M245.9 200.0h0M246.0 171.7h0M246.1 183.2h0M246.2 184.1h0M246.3 187.4h0M246.4 159.0h0M246.5 207.0h0M246.5 184.4h0M246.6 214.8h0M246.7 177.9h0M246.8 176.4h0M246.9 178.9h0M247.0 152.8h0M247.1 179.3h0M247.1 221.5h0M247.2 183.9h0M247.3 191.8h0M247.4 209.5h0M247.5 199.7h0M247.6 184.4h0M247.6 200.9h0M247.7 155.9h0M247.8 180.4h0M247.9 184.7h0M248.0 184.2h0M248.1 181.2h0M248.2 191.5h0M248.2 182.8h0M248.3 180.8h0M248.4 181.5h0M248.5 176.3h0M248.6 196.2h0M248.7 191.5h0M248.8 174.4h0M248.8 182.4h0M248.9 182.1h0M249.0 184.6h0M249.1 210.6h0M249.2 226.1h0M249.3 179.5h0M249.4 191.4h0M249.4 181.0h0M249.5 182.9h0M249.6 175.8h0M249.7 189.6h0M249.8 188.7h0M249.9 162.6h0M250.0 206.3h0M250.0 183.6h0M250.1 196.8h0M250.2 195.1h0M250.3 174.8h0M250.4 172.9h0M250.5 194.5h0M250.6 187.1h0M250.6 196.8h0M250.7 166.9h0M250.8 188.4h0M250.9 187.5h0M251.0 168.6h0M251.1 176.5h0M251.2 175.2h0M251.2 200.6h0M251.3 166.6h0M251.4 167.5h0M251.5 163.7h0M251.6 188.8h0M251.7 189.7h0M251.8 197.5h0M251.8 183.1h0M251.9 180.2h0M252.0 192.5h0M252.1 174.6h0M252.2 178.7h0M252.3 185.2h0M252.4 181.7h0M252.4 181.2h0M252.5 172.2h0M252.6 175.0h0M252.7 188.5h0M252.8 212.1h0M252.9 180.2h0M253.0 173.6h0M253.0 209.6h0M253.1 177.7h0M253.2 198.4h0M253.3 171.2h0M253.4 211.1h0M253.5 205.6h0M253.6 160.4h0M253.6 183.8h0M253.7 186.3h0M253.8 187.2h0M253.9 211.3h0M254.0 174.8h0M254.1 204.5h0M254.2 189.8h0M254.2 227.7h0M254.3 170.7h0M254.4 184.8h0M254.5 176.4h0M254.6 187.7h0M254.7 184.9h0M254.8 192.1h0M254.8 187.4h0M254.9 190.1h0M255.0 204.9h0M255.1 202.7h0M255.2 204.2h0M255.3 190.7h0M255.4 176.2h0M255.4 195.0h0M255.5 162.0h0M255.6 200.1h0M255.7 169.1h0M255.8 199.6h0M255.9 179.6h0M256.0 196.5h0M256.0 186.2h0M256.1 171.0h0M256.2 182.9h0M256.3 183.4h0M256.4 184.2h0M256.5 193.5h0M256.5 176.4h0M256.6 168.9h0M256.7 218.5h0M256.8 194.7h0M256.9 186.9h0M257.0 194.3h0M257.1 155.8h0M257.1 174.7h0M257.2 153.6h0M257.3 175.2h0M257.4 219.2h0M257.5 180.4h0M257.6 184.0h0M257.7 205.6h0M257.7 214.9h0M257.8 175.8h0M257.9 187.7h0M258.0 180.6h0M258.1 193.5h0M258.2 185.8h0M258.3 171.2h0M258.3 188.2h0M258.4 180.3h0M258.5 162.4h0M258.6 159.8h0M258.7 177.3h0M258.8 194.3h0M258.9 175.6h0M258.9 192.0h0M259.0 181.8h0M259.1 161.8h0M259.2 185.6h0M259.3 206.2h0M259.4 207.5h0M259.5 191.6h0M259.5 171.5h0M259.6 180.2h0M259.7 189.3h0M259.8 182.8h0M259.9 203.6h0M260.0 172.2h0M260.1 192.8h0M260.1 156.8h0M260.2 169.5h0M260.3 202.8h0M260.4 174.6h0M260.5 178.3h0M260.6 194.9h0M260.7 197.0h0M260.7 198.8h0M260.8 205.0h0M260.9 202.0h0M261.0 197.1h0M261.1 180.1h0M261.2 189.8h0M261.3 176.8h0M261.3 193.9h0M261.4 196.5h0M261.5 188.1h0M261.6 203.9h0M261.7 195.4h0M261.8 167.6h0M261.9 173.0h0M261.9 193.4h0M262.0 171.6h0M262.1 202.9h0M262.2 180.2h0M262.3 209.1h0M262.4 187.7h0M262.5 205.2h0M262.5 181.7h0M262.6 188.4h0M262.7 192.3h0M262.8 200.0h0M262.9 217.4h0M263.0 200.0h0M263.1 174.5h0M263.1 189.7h0M263.2 184.1h0M263.3 153.7h0M263.4 184.1h0M263.5 179.7h0M263.6 188.0h0M263.7 192.0h0M263.7 174.2h0M263.8 184.7h0M263.9 212.4h0M264.0 179.6h0M264.1 211.5h0M264.2 168.8h0M264.3 193.8h0M264.3 195.9h0M264.4 187.6h0M264.5 188.2h0M264.6 188.4h0M264.7 187.1h0M264.8 194.9h0M264.8 201.2h0M264.9 156.2h0M265.0 194.6h0M265.1 191.7h0M265.2 175.4h0M265.3 180.7h0M265.4 208.1h0M265.4 190.7h0M265.5 196.7h0M265.6 192.1h0M265.7 191.1h0M265.8 190.8h0M265.9 141.7h0M266.0 185.9h0M266.0 193.3h0M266.1 172.0h0M266.2 195.3h0M266.3 167.3h0M266.4 170.5h0M266.5 166.6h0M266.6 169.1h0M266.6 186.8h0M266.7 165.4h0M266.8 225.0h0M266.9 188.8h0M267.0 188.0h0M267.1 173.9h0M267.2 172.5h0M267.2 186.0h0M267.3 185.1h0M267.4 199.8h0M267.5 172.2h0M267.6 197.7h0M267.7 174.2h0M267.8 164.1h0M267.8 206.1h0M267.9 199.3h0M268.0 192.8h0M268.1 179.3h0M268.2 199.5h0M268.3 185.4h0M268.4 172.3h0M268.4 183.1h0M268.5 187.7h0M268.6 197.8h0M268.7 164.4h0M268.8 160.3h0M268.9 210.4h0M269.0 190.7h0M269.0 208.5h0M269.1 183.0h0M269.2 181.7h0M269.3 159.6h0M269.4 184.5h0M269.5 204.6h0M269.6 192.4h0M269.6 185.1h0M269.7 195.8h0M269.8 224.3h0M269.9 173.0h0M270.0 216.5h0M270.1 202.9h0M270.2 202.3h0M270.2 175.9h0M270.3 176.9h0M270.4 198.7h0M270.5 176.0h0M270.6 174.2h0M270.7 165.6h0M270.8 181.3h0M270.8 189.1h0M270.9 200.3h0M271.0 177.9h0M271.1 189.6h0M271.2 182.4h0M271.3 217.2h0M271.4 200.7h0M271.4 171.8h0M271.5 194.6h0M271.6 194.8h0M271.7 199.6h0M271.8 179.9h0M271.9 191.1h0M272.0 166.0h0M272.0 192.0h0M272.1 171.7h0M272.2 173.3h0M272.3 154.3h0M272.4 207.3h0M272.5 185.8h0M272.6 189.8h0M272.6 196.2h0M272.7 168.1h0M272.8 176.2h0M272.9 199.8h0M273.0 190.3h0M273.1 182.5h0M273.1 178.7h0M273.2 194.3h0M273.3 204.9h0M273.4 160.7h0M273.5 168.5h0M273.6 180.5h0M273.7 195.0h0M273.7 211.9h0M273.8 206.9h0M273.9 217.1h0M274.0 203.5h0M274.1 216.8h0M274.2 201.7h0M274.3 194.1h0M274.3 185.6h0M274.4 184.6h0M274.5 187.9h0M274.6 197.4h0M274.7 202.4h0M274.8 195.1h0M274.9 173.0h0M274.9 186.2h0M275.0 188.9h0M275.1 153.7h0M275.2 215.6h0M275.3 188.2h0M275.4 186.7h0M275.5 171.3h0M275.5 218.6h0M275.6 190.3h0M275.7 185.7h0M275.8 187.4h0M275.9 207.4h0M276.0 200.2h0M276.1 180.7h0M276.1 199.9h0M276.2 201.8h0M276.3 164.4h0M276.4 187.2h0M276.5 187.5h0M276.6 193.4h0M276.7 194.8h0M276.7 212.7h0M276.8 193.8h0M276.9 191.8h0M277.0 218.3h0M277.1 205.5h0M277.2 179.6h0M277.3 179.3h0M277.3 188.0h0M277.4 164.0h0M277.5 177.9h0M277.6 189.9h0M277.7 159.8h0M277.8 192.9h0M277.9 213.4h0M277.9 237.0h0M278.0 209.6h0M278.1 195.8h0M278.2 186.8h0M278.3 183.6h0M278.4 197.1h0M278.5 194.1h0M278.5 186.0h0M278.6 204.6h0M278.7 205.1h0M278.8 167.7h0M278.9 181.3h0M279.0 194.3h0M279.1 183.0h0M279.1 198.1h0M279.2 170.8h0M279.3 192.6h0M279.4 152.1h0M279.5 161.3h0M279.6 175.5h0M279.7 172.1h0M279.7 165.2h0M279.8 214.5h0M279.9 168.5h0M280.0 217.6h0M280.1 165.9h0M280.2 167.7h0M280.3 198.4h0M280.3 168.5h0M280.4 189.9h0M280.5 181.3h0M280.6 171.9h0M280.7 197.0h0M280.8 175.6h0M280.9 195.1h0M280.9 171.7h0M281.0 190.6h0M281.1 193.4h0M281.2 184.0h0M281.3 206.1h0M281.4 186.3h0M281.5 157.7h0M281.5 189.8h0M281.6 174.2h0M281.7 207.1h0M281.8 187.1h0M281.9 193.6h0M282.0 178.4h0M282.0 187.7h0M282.1 205.9h0M282.2 197.7h0M282.3 202.7h0M282.4 187.7h0M282.5 182.7h0M282.6 165.5h0M282.6 190.9h0M282.7 184.2h0M282.8 195.9h0M282.9 181.5h0M283.0 207.3h0M283.1 189.3h0M283.2 173.0h0M283.2 172.8h0M283.3 208.4h0M283.4 201.2h0M283.5 137.7h0M283.6 201.6h0M283.7 159.8h0M283.8 172.1h0M283.8 209.4h0M283.9 189.3h0M284.0 213.3h0M284.1 200.0h0M284.2 183.5h0M284.3 175.8h0M284.4 186.7h0M284.4 218.2h0M284.5 173.0h0M284.6 194.3h0M284.7 202.7h0M284.8 196.7h0M284.9 204.5h0M285.0 180.9h0M285.0 193.6h0M285.1 190.2h0M285.2 185.6h0M285.3 200.9h0M285.4 208.6h0M285.5 201.5h0M285.6 176.6h0M285.6 161.1h0M285.7 150.4h0M285.8 188.1h0M285.9 172.0h0M286.0 181.6h0M286.1 210.9h0M286.2 225.8h0M286.2 184.6h0M286.3 186.3h0M286.4 171.2h0M286.5 200.7h0M286.6 192.5h0M286.7 195.2h0M286.8 167.5h0M286.8 176.8h0M286.9 179.7h0M287.0 184.8h0M287.1 185.4h0M287.2 198.9h0M287.3 188.9h0M287.4 180.7h0M287.4 189.2h0M287.5 205.7h0M287.6 161.1h0M287.7 195.3h0M287.8 179.1h0M287.9 189.1h0M288.0 182.7h0M288.0 173.9h0M288.1 175.6h0M288.2 199.3h0M288.3 166.1h0M288.4 176.0h0M288.5 190.7h0M288.6 208.5h0M288.6 203.3h0M288.7 184.8h0M288.8 164.9h0M288.9 201.6h0M289.0 166.1h0M289.1 159.1h0M289.2 191.5h0M289.2 195.0h0M289.3 188.4h0M289.4 190.0h0M289.5 195.7h0M289.6 200.8h0M289.7 191.4h0M289.8 192.7h0M289.8 188.3h0M289.9 178.9h0M290.0 177.8h0M290.1 202.3h0M290.2 200.6h0M290.3 228.4h0M290.3 177.3h0M290.4 194.7h0M290.5 175.1h0M290.6 188.9h0M290.7 190.3h0M290.8 136.1h0M290.9 199.0h0M290.9 180.7h0M291.0 191.7h0M291.1 158.6h0M291.2 182.4h0M291.3 190.9h0M291.4 199.4h0M291.5 173.2h0M291.5 200.9h0M291.6 180.4h0M291.7 182.8h0M291.8 179.3h0M291.9 175.9h0M292.0 163.5h0M292.1 199.1h0M292.1 181.8h0M292.2 194.6h0M292.3 185.7h0M292.4 204.5h0M292.5 201.2h0M292.6 190.3h0M292.7 196.5h0M292.7 198.1h0M292.8 174.3h0M292.9 154.8h0M293.0 180.1h0M293.1 193.1h0M293.2 183.4h0M293.3 176.1h0M293.3 199.8h0M293.4 190.7h0M293.5 185.7h0M293.6 210.9h0M293.7 209.6h0M293.8 168.3h0M293.9 192.4h0M293.9 186.3h0M294.0 207.5h0M294.1 191.2h0M294.2 199.4h0M294.3 157.9h0M294.4 195.1h0M294.5 196.5h0M294.5 182.9h0M294.6 167.0h0M294.7 186.4h0M294.8 162.0h0M294.9 190.6h0M295.0 190.7h0M295.1 171.6h0M295.1 203.1h0M295.2 203.8h0M295.3 179.0h0M295.4 172.6h0M295.5 178.8h0M295.6 183.0h0M295.7 161.7h0M295.7 179.3h0M295.8 165.0h0M295.9 200.2h0M296.0 190.3h0M296.1 158.1h0M296.2 186.2h0M296.3 188.4h0M296.3 203.8h0M296.4 188.1h0M296.5 198.2h0M296.6 220.2h0M296.7 195.8h0M296.8 171.1h0M296.9 180.6h0M296.9 225.9h0M297.0 203.4h0M297.1 185.3h0M297.2 197.5h0M297.3 192.6h0M297.4 182.9h0M297.5 192.7h0M297.5 175.0h0M297.6 189.6h0M297.7 203.4h0M297.8 197.8h0M297.9 183.3h0M298.0 180.0h0M298.1 193.4h0M298.1 213.7h0M298.2 173.4h0M298.3 161.2h0M298.4 175.3h0M298.5 208.9h0M298.6 180.6h0M298.6 183.3h0M298.7 177.3h0M298.8 197.6h0M298.9 202.7h0M299.0 188.5h0M299.1 172.8h0M299.2 223.8h0M299.2 169.8h0M299.3 214.8h0M299.4 201.8h0M299.5 181.7h0M299.6 181.1h0M299.7 183.8h0M299.8 171.5h0M299.8 175.4h0M299.9 187.0h0M300.0 192.3h0M300.1 183.2h0M300.2 186.1h0M300.3 199.2h0M300.4 173.4h0M300.4 169.4h0M300.5 168.6h0M300.6 185.4h0M300.7 213.1h0M300.8 179.4h0M300.9 211.0h0M301.0 190.0h0M301.0 196.8h0M301.1 184.7h0M301.2 202.8h0M301.3 207.3h0M301.4 189.3h0M301.5 182.0h0M301.6 182.1h0M301.6 194.1h0M301.7 189.2h0M301.8 180.7h0M301.9 162.8h0M302.0 209.6h0M302.1 190.6h0M302.2 186.0h0M302.2 193.1h0M302.3 171.7h0M302.4 182.4h0M302.5 190.3h0M302.6 175.2h0M302.7 189.1h0M302.8 180.1h0M302.8 190.3h0M302.9 179.4h0M303.0 182.7h0M303.1 181.6h0M303.2 199.0h0M303.3 187.7h0M303.4 190.4h0M303.4 170.3h0M303.5 191.5h0M303.6 183.3h0M303.7 184.3h0M303.8 188.8h0M303.9 197.0h0M304.0 207.6h0M304.0 183.0h0M304.1 189.8h0M304.2 160.2h0M304.3 196.1h0M304.4 190.7h0M304.5 207.1h0M304.6 187.4h0M304.6 179.0h0M304.7 193.3h0M304.8 156.7h0M304.9 188.9h0M305.0 193.6h0M305.1 192.6h0M305.2 181.2h0M305.2 217.3h0M305.3 182.7h0M305.4 178.5h0M305.5 225.0h0M305.6 183.5h0M305.7 175.9h0M305.8 178.6h0M305.8 179.5h0M305.9 185.3h0M306.0 198.5h0M306.1 182.1h0M306.2 195.3h0M306.3 198.2h0M306.4 176.1h0M306.4 159.3h0M306.5 173.8h0M306.6 188.7h0M306.7 194.0h0M306.8 208.3h0M306.9 181.1h0M306.9 195.3h0M307.0 193.1h0M307.1 177.4h0M307.2 178.1h0M307.3 219.9h0M307.4 206.8h0M307.5 192.6h0M307.5 173.7h0M307.6 164.7h0M307.7 201.0h0M307.8 167.7h0M307.9 191.0h0M308.0 188.3h0M308.1 164.5h0M308.1 187.7h0M308.2 178.8h0M308.3 192.1h0M308.4 166.3h0M308.5 178.4h0M308.6 189.9h0M308.7 179.8h0M308.7 163.9h0M308.8 197.6h0M308.9 170.7h0M309.0 187.9h0M309.1 212.7h0M309.2 207.2h0M309.3 192.0h0M309.3 173.1h0M309.4 210.6h0M309.5 200.7h0M309.6 170.6h0M309.7 202.0h0M309.8 180.2h0M309.9 204.6h0M309.9 199.2h0M310.0 219.5h0M310.1 171.1h0M310.2 199.8h0M310.3 190.8h0M310.4 214.7h0M310.5 188.0h0M310.5 200.5h0M310.6 186.8h0M310.7 186.7h0M310.8 150.9h0M310.9 205.0h0M311.0 196.9h0M311.1 197.4h0M311.1 174.6h0M311.2 184.9h0M311.3 218.4h0M311.4 175.1h0M311.5 188.5h0M311.6 224.3h0M311.7 204.3h0M311.7 190.9h0M311.8 199.2h0M311.9 176.0h0M312.0 197.5h0M312.1 192.8h0M312.2 232.4h0M312.3 180.1h0M312.3 182.6h0M312.4 205.7h0M312.5 208.1h0M312.6 184.6h0M312.7 215.8h0M312.8 194.3h0M312.9 174.6h0M312.9 178.7h0M313.0 178.1h0M313.1 179.4h0M313.2 190.6h0M313.3 194.6h0M313.4 195.4h0M313.5 162.5h0M313.5 190.2h0M313.6 173.8h0M313.7 189.1h0M313.8 207.7h0M313.9 175.4h0M314.0 197.2h0M314.1 186.9h0M314.1 190.1h0M314.2 194.7h0M314.3 222.8h0M314.4 200.1h0M314.5 201.3h0M314.6 178.4h0M314.7 188.5h0M314.7 192.2h0M314.8 192.4h0M314.9 188.3h0M315.0 172.0h0M315.1 206.1h0M315.2 192.1h0M315.3 167.8h0M315.3 195.1h0M315.4 214.5h0M315.5 190.0h0M315.6 181.3h0M315.7 174.2h0M315.8 178.5h0M315.8 187.3h0M315.9 175.8h0M316.0 167.6h0M316.1 184.2h0M316.2 190.3h0M316.3 180.1h0M316.4 180.1h0M316.4 171.7h0M316.5 172.3h0M316.6 175.0h0M316.7 228.8h0M316.8 184.6h0M316.9 206.8h0M317.0 185.3h0M317.0 193.0h0M317.1 203.9h0M317.2 205.8h0M317.3 173.5h0M317.4 212.6h0M317.5 197.8h0M317.6 210.5h0M317.6 188.1h0M317.7 164.8h0M317.8 180.7h0M317.9 194.0h0M318.0 172.1h0M318.1 172.7h0M318.2 179.6h0M318.2 182.0h0M318.3 185.0h0M318.4 204.1h0M318.5 182.6h0M318.6 201.2h0M318.7 172.4h0M318.8 174.8h0M318.8 215.4h0M318.9 210.3h0M319.0 177.0h0M319.1 188.7h0M319.2 193.4h0M319.3 210.1h0M319.4 179.8h0M319.4 179.6h0M319.5 189.2h0M319.6 197.5h0M319.7 176.9h0M319.8 202.4h0M319.9 162.4h0M320.0 203.1h0M320.0 182.6h0M320.1 196.4h0M320.2 230.6h0M320.3 193.8h0M320.4 174.7h0M320.5 190.1h0M320.6 179.7h0M320.6 206.9h0M320.7 191.2h0M320.8 218.2h0M320.9 200.0h0M321.0 190.6h0M321.1 166.2h0M321.2 204.2h0M321.2 183.0h0M321.3 191.4h0M321.4 180.8h0M321.5 199.3h0M321.6 170.9h0M321.7 209.2h0M321.8 185.3h0M321.8 169.5h0M321.9 182.6h0M322.0 168.7h0M322.1 179.1h0M322.2 191.5h0M322.3 213.9h0M322.4 202.6h0M322.4 194.3h0M322.5 186.8h0M322.6 202.3h0M322.7 197.2h0M322.8 198.2h0M322.9 176.3h0M323.0 203.7h0M323.0 198.9h0M323.1 196.3h0M323.2 176.8h0M323.3 198.3h0M323.4 200.3h0M323.5 216.1h0M323.6 172.0h0M323.6 190.0h0M323.7 203.7h0M323.8 185.7h0M323.9 188.9h0M324.0 210.9h0M324.1 170.7h0M324.1 175.4h0M324.2 183.4h0M324.3 169.9h0M324.4 187.3h0M324.5 197.1h0M324.6 197.1h0M324.7 188.6h0M324.7 182.3h0M324.8 192.1h0M324.9 201.0h0M325.0 196.7h0M325.1 199.8h0M325.2 161.4h0M325.3 192.4h0M325.3 179.9h0M325.4 181.7h0M325.5 175.3h0M325.6 187.8h0M325.7 191.0h0M325.8 211.1h0M325.9 194.8h0M325.9 169.2h0M326.0 209.4h0M326.1 198.8h0M326.2 186.6h0M326.3 188.4h0M326.4 213.2h0M326.5 191.6h0M326.5 182.2h0M326.6 166.5h0M326.7 191.3h0M326.8 187.5h0M326.9 192.6h0M327.0 187.5h0M327.1 185.9h0M327.1 205.3h0M327.2 191.5h0M327.3 194.7h0M327.4 188.3h0M327.5 195.4h0M327.6 177.3h0M327.7 180.3h0M327.7 177.3h0M327.8 159.7h0M327.9 183.3h0M328.0 182.1h0M328.1 189.9h0M328.2 160.4h0M328.3 186.5h0M328.3 205.9h0M328.4 156.2h0M328.5 207.5h0M328.6 189.9h0M328.7 178.6h0M328.8 162.4h0M328.9 182.5h0M328.9 176.3h0M329.0 200.5h0M329.1 197.7h0M329.2 182.1h0M329.3 198.1h0M329.4 192.5h0M329.5 182.9h0M329.5 206.1h0M329.6 181.8h0M329.7 201.7h0M329.8 168.4h0M329.9 166.3h0M330.0 149.5h0M330.1 210.8h0M330.1 184.8h0M330.2 170.4h0M330.3 204.8h0M330.4 190.0h0M330.5 218.3h0M330.6 162.3h0M330.7 176.4h0M330.7 186.0h0M330.8 203.8h0M330.9 187.7h0M331.0 221.6h0M331.1 220.9h0M331.2 188.4h0M331.3 200.7h0M331.3 212.1h0M331.4 167.6h0M331.5 180.1h0M331.6 192.1h0M331.7 168.6h0M331.8 170.3h0M331.9 191.7h0M331.9 190.5h0M332.0 184.0h0M332.1 207.1h0M332.2 205.2h0M332.3 172.2h0M332.4 204.5h0M332.4 172.3h0M332.5 192.6h0M332.6 165.9h0M332.7 165.7h0M332.8 175.9h0M332.9 157.6h0M333.0 192.9h0M333.0 202.3h0M333.1 207.8h0M333.2 171.7h0M333.3 194.6h0M333.4 188.9h0M333.5 185.4h0M333.6 181.9h0M333.6 186.9h0M333.7 186.9h0M333.8 181.9h0M333.9 194.7h0M334.0 192.3h0M334.1 175.8h0M334.2 192.8h0M334.2 164.2h0M334.3 170.0h0M334.4 170.4h0M334.5 184.2h0M334.6 180.1h0M334.7 177.4h0M334.8 177.5h0M334.8 198.8h0M334.9 224.3h0M335.0 185.0h0M335.1 204.8h0M335.2 190.8h0M335.3 174.6h0M335.4 188.6h0M335.4 199.0h0M335.5 188.1h0M335.6 175.6h0M335.7 203.4h0M335.8 196.4h0M335.9 160.7h0M336.0 208.0h0M336.0 215.4h0M336.1 179.6h0M336.2 210.3h0M336.3 191.5h0M336.4 184.0h0M336.5 203.0h0M336.6 207.5h0M336.6 173.7h0M336.7 198.5h0M336.8 211.1h0M336.9 189.0h0M337.0 214.4h0M337.1 183.8h0M337.2 197.8h0M337.2 180.0h0M337.3 184.2h0M337.4 195.5h0M337.5 200.5h0M337.6 181.0h0M337.7 189.3h0M337.8 187.2h0M337.8 192.5h0M337.9 175.5h0M338.0 161.0h0M338.1 219.4h0M338.2 196.4h0M338.3 210.5h0M338.4 186.7h0M338.4 166.4h0M338.5 176.1h0M338.6 177.7h0M338.7 195.7h0M338.8 189.9h0M338.9 167.8h0M339.0 179.0h0M339.0 165.7h0M339.1 207.1h0M339.2 212.1h0M339.3 204.7h0M339.4 189.2h0M339.5 203.6h0M339.6 198.3h0M339.6 193.2h0M339.7 179.8h0M339.8 169.7h0M339.9 177.3h0M340.0 191.4h0M340.1 218.0h0M340.2 178.5h0M340.2 181.5h0M340.3 186.5h0M340.4 202.5h0M340.5 171.3h0M340.6 188.3h0M340.7 170.9h0M340.8 182.2h0M340.8 179.5h0M340.9 183.5h0M341.0 179.6h0M341.1 202.7h0M341.2 176.6h0M341.3 200.2h0M341.3 185.7h0M341.4 213.1h0M341.5 174.7h0M341.6 206.6h0M341.7 190.7h0M341.8 170.2h0M341.9 167.9h0M341.9 202.7h0M342.0 185.4h0M342.1 209.0h0M342.2 171.4h0M342.3 197.7h0M342.4 214.6h0M342.5 182.2h0M342.5 165.0h0M342.6 187.9h0M342.7 177.5h0M342.8 182.4h0M342.9 209.7h0M343.0 191.7h0M343.1 201.3h0M343.1 193.9h0M343.2 172.8h0M343.3 197.0h0M343.4 184.5h0M343.5 190.7h0M343.6 185.4h0M343.7 185.1h0M343.7 194.0h0M343.8 180.7h0M343.9 205.0h0M344.0 172.5h0M344.1 222.1h0M344.2 191.2h0M344.3 176.5h0M344.3 172.6h0M344.4 184.8h0M344.5 240.2h0M344.6 174.1h0M344.7 215.9h0M344.8 203.3h0M344.9 186.7h0M344.9 201.8h0M345.0 219.1h0M345.1 191.5h0M345.2 179.1h0M345.3 209.8h0M345.4 179.5h0M345.5 192.6h0M345.5 189.3h0M345.6 197.3h0M345.7 193.1h0M345.8 196.6h0M345.9 197.2h0M346.0 187.1h0M346.1 186.1h0M346.1 185.6h0M346.2 216.3h0M346.3 180.8h0M346.4 189.8h0M346.5 196.7h0M346.6 172.9h0M346.7 213.2h0M346.7 187.9h0M346.8 223.7h0M346.9 170.7h0M347.0 177.1h0M347.1 197.7h0M347.2 193.4h0M347.3 184.6h0M347.3 217.2h0M347.4 193.9h0M347.5 211.6h0M347.6 178.6h0M347.7 172.6h0M347.8 198.2h0M347.9 182.9h0M347.9 183.6h0M348.0 200.3h0M348.1 178.5h0M348.2 208.7h0M348.3 196.3h0M348.4 166.3h0M348.5 185.2h0M348.5 188.1h0M348.6 186.7h0M348.7 206.8h0M348.8 206.0h0M348.9 181.6h0M349.0 186.7h0M349.1 188.1h0M349.1 185.4h0M349.2 210.4h0M349.3 180.3h0M349.4 191.5h0M349.5 233.0h0M349.6 203.5h0M349.6 174.9h0M349.7 204.2h0M349.8 197.5h0M349.9 160.1h0M350.0 198.6h0M350.1 172.3h0M350.2 208.8h0M350.2 171.8h0M350.3 212.6h0M350.4 200.2h0M350.5 164.3h0M350.6 190.0h0M350.7 187.0h0M350.8 196.9h0M350.8 185.6h0M350.9 201.9h0M351.0 184.7h0M351.1 191.9h0M351.2 195.0h0M351.3 181.8h0M351.4 159.8h0M351.4 203.6h0M351.5 196.6h0M351.6 174.3h0M351.7 170.6h0M351.8 195.7h0M351.9 180.0h0M352.0 180.2h0M352.0 166.0h0M352.1 192.0h0M352.2 193.2h0M352.3 187.0h0M352.4 212.1h0M352.5 191.5h0M352.6 198.3h0M352.6 195.6h0M352.7 192.6h0M352.8 203.3h0M352.9 175.6h0M353.0 185.7h0M353.1 164.8h0M353.2 209.2h0M353.2 196.9h0M353.3 188.5h0M353.4 182.9h0M353.5 194.2h0M353.6 198.9h0M353.7 169.2h0M353.8 203.4h0M353.8 165.2h0M353.9 174.0h0M354.0 159.4h0M354.1 174.1h0M354.2 182.6h0M354.3 183.3h0M354.4 191.0h0M354.4 219.7h0M354.5 195.6h0M354.6 176.8h0M354.7 192.0h0M354.8 214.8h0M354.9 202.5h0M355.0 189.7h0M355.0 152.5h0M355.1 179.6h0M355.2 192.1h0M355.3 187.1h0M355.4 169.0h0M355.5 185.7h0M355.6 191.2h0M355.6 185.7h0M355.7 184.9h0M355.8 210.8h0M355.9 183.2h0M356.0 199.0h0M356.1 191.2h0M356.2 191.5h0M356.2 207.9h0M356.3 212.2h0M356.4 208.9h0M356.5 173.8h0M356.6 187.0h0M356.7 173.0h0M356.8 204.8h0M356.8 200.8h0M356.9 206.4h0M357.0 196.6h0M357.1 196.3h0M357.2 172.9h0M357.3 228.5h0M357.4 193.4h0M357.4 207.1h0M357.5 208.9h0M357.6 186.2h0M357.7 188.9h0M357.8 185.4h0M357.9 190.5h0M357.9 176.9h0M358.0 196.2h0M358.1 172.0h0M178.3 227.4h0M179.0 232.1h0M178.1 234.6h0M179.2 236.5h0M177.8 238.2h0M177.6 239.8h0M178.8 241.2h0M178.4 242.6h0M179.5 243.8h0M177.6 245.0h0M179.1 246.2h0M178.9 247.3h0M178.2 248.3h0M177.6 249.4h0M178.8 250.4h0M179.1 251.3h0M159.7 227.4h0M159.7 233.0h0M159.9 237.3h0M159.8 242.9h0M159.6 248.5h0M265.8 147.2h0M268.4 145.0h0M270.9 141.5h0M272.6 140.1h0M261.5 134.5h0M269.2 132.4h0M271.4 131.7h0M318.0 132.4h0M197.3 134.5h0M190.5 142.9h0M167.4 142.9h0" stroke="#5b9bd5" stroke-width="2.65" stroke-linecap="round" fill="none"/><path d="M57 50.1H356.8M57.0 45.8V50M142.6 45.8V50M228.1 45.8V50M313.7 45.8V50" stroke="#1e1e1e" stroke-width="1.7" fill="none"/><path d="M57 128.4H358M57 253.6H358" stroke="#111" stroke-width="1.4" stroke-dasharray="3.6 1.55" fill="none"/><circle cx="160.1" cy="253.5" r="3.3" fill="#f00"/><circle cx="160.1" cy="260.7" r="3.3" fill="#f00"/><circle cx="160.1" cy="263.3" r="3.3" fill="#f00"/><circle cx="160.1" cy="265.9" r="3.3" fill="#f00"/><circle cx="160.1" cy="267.7" r="3.3" fill="#f00"/><circle cx="160.1" cy="277.3" r="3.3" fill="#f00"/><circle cx="178.5" cy="256.1" r="3.3" fill="#f00"/><circle cx="181.0" cy="261.4" r="3.3" fill="#f00"/><circle cx="179.9" cy="266.8" r="3.3" fill="#f00"/><circle cx="179.9" cy="272.0" r="3.3" fill="#f00"/><circle cx="179.9" cy="278.6" r="3.3" fill="#f00"/><circle cx="179.9" cy="280.4" r="3.3" fill="#f00"/><circle cx="275.0" cy="127.3" r="3.3" fill="#f00"/><circle cx="307.6" cy="79.0" r="3.3" fill="#f00"/><circle cx="307.6" cy="88.3" r="3.3" fill="#f00"/><text x="384.6" y="16.9" font-size="23.5" fill="#111">B</text><path fill-rule="evenodd" fill="#808080" stroke="#000" stroke-width="1.3" d="M413.20 149.90a96.15 102.40 0 1 0 192.30 0a96.15 102.40 0 1 0 -192.30 0ZM426.40 150.40a81.95 85.80 0 1 0 163.90 0a81.95 85.80 0 1 0 -163.90 0Z"/><path d="M508.7 45.1L508.7 65.2M479.8 48.9L484.7 68.6M590.7 143.9L610.1 142.3M408.0 174.8L427.4 169.0M519.0 235.3L522.5 254.8" stroke="#ffc000" stroke-width="4" fill="none"/><path d="M576.7 195.2L590 204.7L585.9 211.3L572.9 201.1Z" fill="#e35d5d"/><path d="M588 207L603.1 211.9M585 209L594.6 219.8" stroke="#e35d5d" stroke-width="2.6" fill="none"/><path d="M550.5 222.2L556.4 218.2L564.3 231.7L558.4 236.9Z" fill="#a0d08b"/><path d="M563 232L573.5 242.2M558.7 236.5L563.1 252" stroke="#a0d08b" stroke-width="2.6" fill="none"/><text x="506.4" y="84.7" font-size="12.6" fill="#111" font-weight="normal" text-anchor="start">0</text><text x="460.7" y="92.6" font-size="13.2" fill="#111" font-weight="normal" text-anchor="start">4.00 M</text><text x="544.1" y="156.5" font-size="13.0" fill="#111" font-weight="normal" text-anchor="start">1.00</text><text x="544.0" y="171.9" font-size="13.0" fill="#111" font-weight="normal" text-anchor="start">M</text><text x="439.6" y="175.0" font-size="13.3" fill="#111" font-weight="normal" text-anchor="start">3.00 M</text><text x="501.3" y="228.2" font-size="13.2" fill="#111" font-weight="normal" text-anchor="start">2.00 M</text><text x="613.4" y="222.6" font-size="13.2" fill="#111" font-weight="normal" text-anchor="start">1.43 M</text><text x="601.2" y="238.3" font-size="13.2" fill="#111" font-weight="normal" text-anchor="start">1.46 M</text><text x="630.4" y="252.2" font-size="12.8" fill="#d82a2a" font-weight="bold" text-anchor="start">Region 1</text><text x="581.8" y="258.0" font-size="13.2" fill="#111" font-weight="normal" text-anchor="start">1.67 M</text><text x="565.2" y="272.0" font-size="13.2" fill="#111" font-weight="normal" text-anchor="start">1.73 M</text><text x="567.4" y="290.7" font-size="12.9" fill="#558f33" font-weight="bold" text-anchor="start">Region 2</text><text x="46.5" y="378.4" font-size="23.3" fill="#111">C</text><defs><linearGradient id="kg" x1="0" x2="1" y1="0" y2="0"><stop offset="0" stop-color="#ff0000"/><stop offset="0.5" stop-color="#000"/><stop offset="1" stop-color="#28ff00"/></linearGradient></defs><rect x="26.3" y="389.1" width="38.3" height="17.1" fill="url(#kg)" stroke="#333" stroke-width="0.4"/><path d="M28.3 406.2V409.9M34.1 406.2V409.9M39.5 406.2V409.9M45.5 406.2V409.9M51.3 406.2V409.9M56.8 406.2V409.9M62.5 406.2V409.9" stroke="#555" stroke-width="0.7" fill="none"/><text x="28.4" y="419.8" font-size="5.8" fill="#222" font-weight="normal" text-anchor="middle">-1.5</text><text x="45.4" y="419.8" font-size="5.8" fill="#222" font-weight="normal" text-anchor="middle">0</text><text x="56.9" y="419.8" font-size="5.8" fill="#222" font-weight="normal" text-anchor="middle">1</text><text x="45.4" y="429.9" font-size="6.0" fill="#222" font-weight="normal" text-anchor="middle">Row Z-Score</text><rect x="71.50" y="444.20" width="48.90" height="15.26" fill="#22d800" shape-rendering="crispEdges"/><rect x="119.90" y="444.20" width="48.20" height="15.26" fill="#0b4a00" shape-rendering="crispEdges"/><rect x="167.60" y="444.20" width="48.30" height="15.26" fill="#0f5a00" shape-rendering="crispEdges"/><rect x="215.40" y="444.20" width="49.10" height="15.26" fill="#a00000" shape-rendering="crispEdges"/><rect x="264.00" y="444.20" width="48.20" height="15.26" fill="#350000" shape-rendering="crispEdges"/><rect x="311.70" y="444.20" width="47.70" height="15.26" fill="#a80000" shape-rendering="crispEdges"/><text x="364.4" y="454.7" font-size="12.4" fill="#111" font-weight="normal" text-anchor="start">CDR20291_1442 phage protein</text><rect x="71.50" y="458.95" width="48.90" height="15.26" fill="#1a8500" shape-rendering="crispEdges"/><rect x="119.90" y="458.95" width="48.20" height="15.26" fill="#28d400" shape-rendering="crispEdges"/><rect x="167.60" y="458.95" width="48.30" height="15.26" fill="#0a3500" shape-rendering="crispEdges"/><rect x="215.40" y="458.95" width="49.10" height="15.26" fill="#970000" shape-rendering="crispEdges"/><rect x="264.00" y="458.95" width="48.20" height="15.26" fill="#a40000" shape-rendering="crispEdges"/><rect x="311.70" y="458.95" width="47.70" height="15.26" fill="#6c0000" shape-rendering="crispEdges"/><text x="364.4" y="469.5" font-size="12.4" fill="#111" font-weight="normal" text-anchor="start">CDR20291_1425 virulence-associated protein e</text><rect x="71.50" y="473.71" width="48.90" height="15.26" fill="#1d9c00" shape-rendering="crispEdges"/><rect x="119.90" y="473.71" width="48.20" height="15.26" fill="#0f5700" shape-rendering="crispEdges"/><rect x="167.60" y="473.71" width="48.30" height="15.26" fill="#1d9800" shape-rendering="crispEdges"/><rect x="215.40" y="473.71" width="49.10" height="15.26" fill="#9c0000" shape-rendering="crispEdges"/><rect x="264.00" y="473.71" width="48.20" height="15.26" fill="#6c0000" shape-rendering="crispEdges"/><rect x="311.70" y="473.71" width="47.70" height="15.26" fill="#aa0000" shape-rendering="crispEdges"/><text x="364.4" y="484.4" font-size="12.4" fill="#111" font-weight="normal" text-anchor="start">CDR20291_1444 phage protein</text><rect x="71.50" y="488.46" width="48.90" height="15.26" fill="#20a600" shape-rendering="crispEdges"/><rect x="119.90" y="488.46" width="48.20" height="15.26" fill="#0a2e00" shape-rendering="crispEdges"/><rect x="167.60" y="488.46" width="48.30" height="15.26" fill="#1fa300" shape-rendering="crispEdges"/><rect x="215.40" y="488.46" width="49.10" height="15.26" fill="#5a0000" shape-rendering="crispEdges"/><rect x="264.00" y="488.46" width="48.20" height="15.26" fill="#8a0000" shape-rendering="crispEdges"/><rect x="311.70" y="488.46" width="47.70" height="15.26" fill="#b80000" shape-rendering="crispEdges"/><text x="364.4" y="499.2" font-size="12.4" fill="#111" font-weight="normal" text-anchor="start">CDR20291_1211 hypothetical protein</text><rect x="71.50" y="503.22" width="48.90" height="15.26" fill="#2dff00" shape-rendering="crispEdges"/><rect x="119.90" y="503.22" width="48.20" height="15.26" fill="#0c4200" shape-rendering="crispEdges"/><rect x="167.60" y="503.22" width="48.30" height="15.26" fill="#0c4200" shape-rendering="crispEdges"/><rect x="215.40" y="503.22" width="49.10" height="15.26" fill="#780000" shape-rendering="crispEdges"/><rect x="264.00" y="503.22" width="48.20" height="15.26" fill="#6c0000" shape-rendering="crispEdges"/><rect x="311.70" y="503.22" width="47.70" height="15.26" fill="#a40000" shape-rendering="crispEdges"/><text x="364.4" y="514.1" font-size="12.4" fill="#111" font-weight="normal" text-anchor="start">CDR20291_1215 phage protein</text><rect x="71.50" y="517.98" width="48.90" height="15.26" fill="#2dff00" shape-rendering="crispEdges"/><rect x="119.90" y="517.98" width="48.20" height="15.26" fill="#0c4200" shape-rendering="crispEdges"/><rect x="167.60" y="517.98" width="48.30" height="15.26" fill="#0c4200" shape-rendering="crispEdges"/><rect x="215.40" y="517.98" width="49.10" height="15.26" fill="#780000" shape-rendering="crispEdges"/><rect x="264.00" y="517.98" width="48.20" height="15.26" fill="#6c0000" shape-rendering="crispEdges"/><rect x="311.70" y="517.98" width="47.70" height="15.26" fill="#a40000" shape-rendering="crispEdges"/><text x="364.4" y="528.9" font-size="12.4" fill="#111" font-weight="normal" text-anchor="start">CDR20291_1214 phage protein</text><rect x="71.50" y="532.73" width="48.90" height="15.26" fill="#1e9400" shape-rendering="crispEdges"/><rect x="119.90" y="532.73" width="48.20" height="15.26" fill="#125e00" shape-rendering="crispEdges"/><rect x="167.60" y="532.73" width="48.30" height="15.26" fill="#22a800" shape-rendering="crispEdges"/><rect x="215.40" y="532.73" width="49.10" height="15.26" fill="#8a0000" shape-rendering="crispEdges"/><rect x="264.00" y="532.73" width="48.20" height="15.26" fill="#760000" shape-rendering="crispEdges"/><rect x="311.70" y="532.73" width="47.70" height="15.26" fill="#a80000" shape-rendering="crispEdges"/><text x="364.4" y="543.7" font-size="12.4" fill="#111" font-weight="normal" text-anchor="start">CDR20291_1217 phage tail fiber protein</text><rect x="71.50" y="547.49" width="48.90" height="15.26" fill="#1d8e00" shape-rendering="crispEdges"/><rect x="119.90" y="547.49" width="48.20" height="15.26" fill="#197b00" shape-rendering="crispEdges"/><rect x="167.60" y="547.49" width="48.30" height="15.26" fill="#1f9600" shape-rendering="crispEdges"/><rect x="215.40" y="547.49" width="49.10" height="15.26" fill="#a50000" shape-rendering="crispEdges"/><rect x="264.00" y="547.49" width="48.20" height="15.26" fill="#580000" shape-rendering="crispEdges"/><rect x="311.70" y="547.49" width="47.70" height="15.26" fill="#a80000" shape-rendering="crispEdges"/><text x="364.4" y="558.6" font-size="12.4" fill="#111" font-weight="normal" text-anchor="start">CDR20291_1216 phage protein</text><rect x="71.50" y="562.24" width="48.90" height="15.26" fill="#22aa00" shape-rendering="crispEdges"/><rect x="119.90" y="562.24" width="48.20" height="15.26" fill="#1a8400" shape-rendering="crispEdges"/><rect x="167.60" y="562.24" width="48.30" height="15.26" fill="#115200" shape-rendering="crispEdges"/><rect x="215.40" y="562.24" width="49.10" height="15.26" fill="#a50000" shape-rendering="crispEdges"/><rect x="264.00" y="562.24" width="48.20" height="15.26" fill="#640000" shape-rendering="crispEdges"/><rect x="311.70" y="562.24" width="47.70" height="15.26" fill="#a20000" shape-rendering="crispEdges"/><text x="364.4" y="573.4" font-size="12.4" fill="#111" font-weight="normal" text-anchor="start">CDR20291_1207 hypothetical protein</text><rect x="71.50" y="577.00" width="48.90" height="15.26" fill="#c20000" shape-rendering="crispEdges"/><rect x="119.90" y="577.00" width="48.20" height="15.26" fill="#3b0000" shape-rendering="crispEdges"/><rect x="167.60" y="577.00" width="48.30" height="15.26" fill="#950000" shape-rendering="crispEdges"/><rect x="215.40" y="577.00" width="49.10" height="15.26" fill="#25b000" shape-rendering="crispEdges"/><rect x="264.00" y="577.00" width="48.20" height="15.26" fill="#166a00" shape-rendering="crispEdges"/><rect x="311.70" y="577.00" width="47.70" height="15.26" fill="#166a00" shape-rendering="crispEdges"/><text x="364.4" y="588.3" font-size="12.4" fill="#111" font-weight="normal" text-anchor="start">CDR20291_2554 PTS system glucose-specific transporter</text><rect x="71.50" y="591.75" width="48.90" height="15.26" fill="#2df200" shape-rendering="crispEdges"/><rect x="119.90" y="591.75" width="48.20" height="15.26" fill="#0c3c00" shape-rendering="crispEdges"/><rect x="167.60" y="591.75" width="48.30" height="15.26" fill="#0f4b00" shape-rendering="crispEdges"/><rect x="215.40" y="591.75" width="49.10" height="15.26" fill="#580000" shape-rendering="crispEdges"/><rect x="264.00" y="591.75" width="48.20" height="15.26" fill="#780000" shape-rendering="crispEdges"/><rect x="311.70" y="591.75" width="47.70" height="15.26" fill="#a80000" shape-rendering="crispEdges"/><text x="364.4" y="603.1" font-size="12.4" fill="#111" font-weight="normal" text-anchor="start">CDR20291_1433 phage portal protein</text><rect x="71.50" y="606.50" width="48.90" height="15.26" fill="#27dc00" shape-rendering="crispEdges"/><rect x="119.90" y="606.50" width="48.20" height="15.26" fill="#0f4c00" shape-rendering="crispEdges"/><rect x="167.60" y="606.50" width="48.30" height="15.26" fill="#146a00" shape-rendering="crispEdges"/><rect x="215.40" y="606.50" width="49.10" height="15.26" fill="#7a0000" shape-rendering="crispEdges"/><rect x="264.00" y="606.50" width="48.20" height="15.26" fill="#780000" shape-rendering="crispEdges"/><rect x="311.70" y="606.50" width="47.70" height="15.26" fill="#a20000" shape-rendering="crispEdges"/><text x="364.4" y="617.9" font-size="12.4" fill="#111" font-weight="normal" text-anchor="start">CDR20291_1432 phage terminase large subunit</text><rect x="71.50" y="621.26" width="48.90" height="15.26" fill="#27dc00" shape-rendering="crispEdges"/><rect x="119.90" y="621.26" width="48.20" height="15.26" fill="#020c00" shape-rendering="crispEdges"/><rect x="167.60" y="621.26" width="48.30" height="15.26" fill="#1e9000" shape-rendering="crispEdges"/><rect x="215.40" y="621.26" width="49.10" height="15.26" fill="#880000" shape-rendering="crispEdges"/><rect x="264.00" y="621.26" width="48.20" height="15.26" fill="#5a0000" shape-rendering="crispEdges"/><rect x="311.70" y="621.26" width="47.70" height="15.26" fill="#9c0000" shape-rendering="crispEdges"/><text x="364.4" y="632.8" font-size="12.4" fill="#111" font-weight="normal" text-anchor="start">CDR20291_1208 hypothetical protein</text><rect x="71.50" y="636.01" width="48.90" height="15.26" fill="#2dff00" shape-rendering="crispEdges"/><rect x="119.90" y="636.01" width="48.20" height="15.26" fill="#0c3800" shape-rendering="crispEdges"/><rect x="167.60" y="636.01" width="48.30" height="15.26" fill="#0f4500" shape-rendering="crispEdges"/><rect x="215.40" y="636.01" width="49.10" height="15.26" fill="#6c0000" shape-rendering="crispEdges"/><rect x="264.00" y="636.01" width="48.20" height="15.26" fill="#880000" shape-rendering="crispEdges"/><rect x="311.70" y="636.01" width="47.70" height="15.26" fill="#9c0000" shape-rendering="crispEdges"/><text x="364.4" y="647.6" font-size="12.4" fill="#111" font-weight="normal" text-anchor="start">CDR20291_1436 phage major capsid protein</text><rect x="71.50" y="650.77" width="48.90" height="15.26" fill="#2dff00" shape-rendering="crispEdges"/><rect x="119.90" y="650.77" width="48.20" height="15.26" fill="#0a2800" shape-rendering="crispEdges"/><rect x="167.60" y="650.77" width="48.30" height="15.26" fill="#125200" shape-rendering="crispEdges"/><rect x="215.40" y="650.77" width="49.10" height="15.26" fill="#880000" shape-rendering="crispEdges"/><rect x="264.00" y="650.77" width="48.20" height="15.26" fill="#620000" shape-rendering="crispEdges"/><rect x="311.70" y="650.77" width="47.70" height="15.26" fill="#a20000" shape-rendering="crispEdges"/><text x="364.4" y="662.5" font-size="12.4" fill="#111" font-weight="normal" text-anchor="start">CDR20291_1449 phage tail tape measure protein</text><rect x="71.50" y="665.52" width="48.90" height="15.26" fill="#21a000" shape-rendering="crispEdges"/><rect x="119.90" y="665.52" width="48.20" height="15.26" fill="#1b7800" shape-rendering="crispEdges"/><rect x="167.60" y="665.52" width="48.30" height="15.26" fill="#187200" shape-rendering="crispEdges"/><rect x="215.40" y="665.52" width="49.10" height="15.26" fill="#a60000" shape-rendering="crispEdges"/><rect x="264.00" y="665.52" width="48.20" height="15.26" fill="#500000" shape-rendering="crispEdges"/><rect x="311.70" y="665.52" width="47.70" height="15.26" fill="#a60000" shape-rendering="crispEdges"/><text x="364.4" y="677.3" font-size="12.4" fill="#111" font-weight="normal" text-anchor="start">CDR20291_1206 hypothetical protein</text><rect x="71.50" y="680.28" width="48.90" height="15.26" fill="#22ae00" shape-rendering="crispEdges"/><rect x="119.90" y="680.28" width="48.20" height="15.26" fill="#155600" shape-rendering="crispEdges"/><rect x="167.60" y="680.28" width="48.30" height="15.26" fill="#1e8800" shape-rendering="crispEdges"/><rect x="215.40" y="680.28" width="49.10" height="15.26" fill="#ac0000" shape-rendering="crispEdges"/><rect x="264.00" y="680.28" width="48.20" height="15.26" fill="#500000" shape-rendering="crispEdges"/><rect x="311.70" y="680.28" width="47.70" height="15.26" fill="#a20000" shape-rendering="crispEdges"/><text x="364.4" y="692.1" font-size="12.4" fill="#111" font-weight="normal" text-anchor="start">CDR20291_1212 phage cell wall hydrolase</text><rect x="71.50" y="695.03" width="48.90" height="15.26" fill="#680000" shape-rendering="crispEdges"/><rect x="119.90" y="695.03" width="48.20" height="15.26" fill="#9a0000" shape-rendering="crispEdges"/><rect x="167.60" y="695.03" width="48.30" height="15.26" fill="#920000" shape-rendering="crispEdges"/><rect x="215.40" y="695.03" width="49.10" height="15.26" fill="#22a000" shape-rendering="crispEdges"/><rect x="264.00" y="695.03" width="48.20" height="15.26" fill="#051800" shape-rendering="crispEdges"/><rect x="311.70" y="695.03" width="47.70" height="15.26" fill="#28cc00" shape-rendering="crispEdges"/><text x="364.4" y="707.0" font-size="12.4" fill="#111" font-weight="normal" text-anchor="start">CDR20291_2927 cellobiose-phosphate degrading protein</text><rect x="71.50" y="709.79" width="48.90" height="15.26" fill="#30ff00" shape-rendering="crispEdges"/><rect x="119.90" y="709.79" width="48.20" height="15.26" fill="#0c3800" shape-rendering="crispEdges"/><rect x="167.60" y="709.79" width="48.30" height="15.26" fill="#0f4800" shape-rendering="crispEdges"/><rect x="215.40" y="709.79" width="49.10" height="15.26" fill="#800000" shape-rendering="crispEdges"/><rect x="264.00" y="709.79" width="48.20" height="15.26" fill="#6c0000" shape-rendering="crispEdges"/><rect x="311.70" y="709.79" width="47.70" height="15.26" fill="#9a0000" shape-rendering="crispEdges"/><text x="364.4" y="721.8" font-size="12.4" fill="#111" font-weight="normal" text-anchor="start">CDR20291_1210 hypothetical protein</text><rect x="71.50" y="724.55" width="48.90" height="15.26" fill="#22b800" shape-rendering="crispEdges"/><rect x="119.90" y="724.55" width="48.20" height="15.26" fill="#062000" shape-rendering="crispEdges"/><rect x="167.60" y="724.55" width="48.30" height="15.26" fill="#28b800" shape-rendering="crispEdges"/><rect x="215.40" y="724.55" width="49.10" height="15.26" fill="#780000" shape-rendering="crispEdges"/><rect x="264.00" y="724.55" width="48.20" height="15.26" fill="#5c0000" shape-rendering="crispEdges"/><rect x="311.70" y="724.55" width="47.70" height="15.26" fill="#b00000" shape-rendering="crispEdges"/><text x="364.4" y="736.7" font-size="12.4" fill="#111" font-weight="normal" text-anchor="start">CDR20291_1218 hypothetical protein</text><rect x="71.50" y="739.30" width="48.90" height="14.76" fill="#5c0000" shape-rendering="crispEdges"/><rect x="119.90" y="739.30" width="48.20" height="14.76" fill="#a80000" shape-rendering="crispEdges"/><rect x="167.60" y="739.30" width="48.30" height="14.76" fill="#a00000" shape-rendering="crispEdges"/><rect x="215.40" y="739.30" width="49.10" height="14.76" fill="#1e9400" shape-rendering="crispEdges"/><rect x="264.00" y="739.30" width="48.20" height="14.76" fill="#0f5000" shape-rendering="crispEdges"/><rect x="311.70" y="739.30" width="47.70" height="14.76" fill="#22b000" shape-rendering="crispEdges"/><text x="364.4" y="751.5" font-size="12.4" fill="#111" font-weight="normal" text-anchor="start">CDR20291_2930 trehalose-6-phosphate hydrolase</text><path d="M0.6 712.8V746.9M0.6 746.9H69.0M0.6 712.8H58.7M58.7 693.3V732.4M58.7 732.4H69.0M58.7 693.3H63.5M63.5 668.7V717.6M63.5 717.6H69.0M63.5 668.7H65.9M65.4 676.7H66.5M65.4 676.7V702.5M65.4 702.5H69.0M65.9 634.9V676.7M68.5 451.2V524.6M67.6 495.8V593.4M68.1 540.0V558.0M67.6 584.0H69.0M66.7 593.4V634.9M68.3 599.4V629.0M68.3 631.0V643.5M68.5 658.1V687.9" stroke="#3a3a3a" stroke-width="0.9" fill="none"/><text transform="translate(96.0,759.1) rotate(-90)" font-size="10" fill="#222" text-anchor="end">WT1</text><text transform="translate(144.1,759.1) rotate(-90)" font-size="10" fill="#222" text-anchor="end">WT2</text><text transform="translate(191.8,759.1) rotate(-90)" font-size="10" fill="#222" text-anchor="end">WT3</text><text transform="translate(240.0,759.1) rotate(-90)" font-size="10" fill="#222" text-anchor="end">luxS1</text><text transform="translate(288.2,759.1) rotate(-90)" font-size="10" fill="#222" text-anchor="end">luxS2</text><text transform="translate(335.8,759.1) rotate(-90)" font-size="10" fill="#222" text-anchor="end">luxS3</text></svg></body></html>
